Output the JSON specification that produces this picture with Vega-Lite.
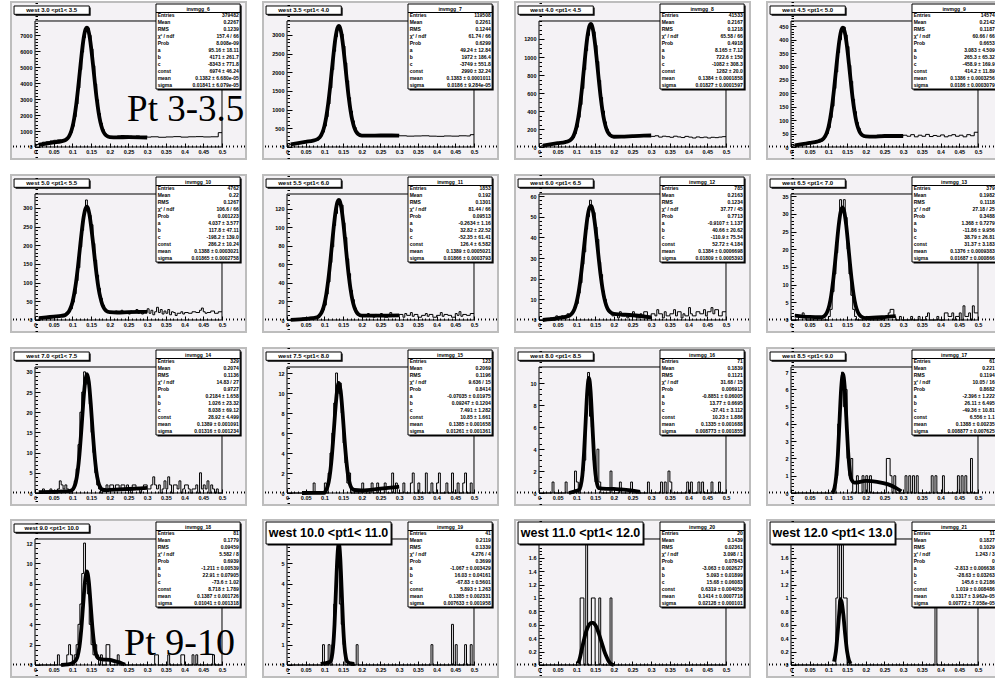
{
  "$schema": "https://vega.github.io/schema/vega-lite/v6.json",
  "background": "#ffffff",
  "padding": {"left": 10, "top": 0, "right": 0, "bottom": 0},
  "spacing": 13,
  "config": {
    "view": {"fill": "#f4f2f5", "stroke": "#bdbdbd", "strokeWidth": 2},
    "text": {"font": "Liberation Sans", "fontWeight": "bold", "fontSize": 5, "color": "black", "baseline": "middle"},
    "line": {"strokeJoin": "round"},
    "axis": {"labelFont": "Liberation Sans", "labelFontWeight": "bold", "labelColor": "black", "labelFontSize": 5.5, "tickColor": "black", "domain": false, "grid": false, "labelFlush": false, "labelOverlap": false}
  },
  "datasets": {
    "t": [
      {"p": 1, "title": "west 3.0 <pt1< 3.5", "name": "invmgg_6", "lab": "Pt 3-3.5"},
      {"p": 2, "title": "west 3.5 <pt1< 4.0", "name": "invmgg_7"},
      {"p": 3, "title": "west 4.0 <pt1< 4.5", "name": "invmgg_8"},
      {"p": 4, "title": "west 4.5 <pt1< 5.0", "name": "invmgg_9"},
      {"p": 5, "title": "west 5.0 <pt1< 5.5", "name": "invmgg_10"},
      {"p": 6, "title": "west 5.5 <pt1< 6.0", "name": "invmgg_11"},
      {"p": 7, "title": "west 6.0 <pt1< 6.5", "name": "invmgg_12"},
      {"p": 8, "title": "west 6.5 <pt1< 7.0", "name": "invmgg_13"},
      {"p": 9, "title": "west 7.0 <pt1< 7.5", "name": "invmgg_14"},
      {"p": 10, "title": "west 7.5 <pt1< 8.0", "name": "invmgg_15"},
      {"p": 11, "title": "west 8.0 <pt1< 8.5", "name": "invmgg_16"},
      {"p": 12, "title": "west 8.5 <pt1< 9.0", "name": "invmgg_17"},
      {"p": 13, "title": "west 9.0 <pt1< 10.0", "name": "invmgg_18", "lab": "Pt 9-10"},
      {"p": 14, "title": "west 10.0 <pt1< 11.0", "name": "invmgg_19"},
      {"p": 15, "title": "west 11.0 <pt1< 12.0", "name": "invmgg_20"},
      {"p": 16, "title": "west 12.0 <pt1< 13.0", "name": "invmgg_21"}
    ],
    "s": [
      {"p":1,"i":1,"k":"Entries","v":"379482"},{"p":1,"i":2,"k":"Mean","v":"0.2267"},{"p":1,"i":3,"k":"RMS","v":"0.1239"},{"p":1,"i":4,"k":"χ² / ndf","v":"157.4 / 66"},{"p":1,"i":5,"k":"Prob","v":"8.008e-09"},{"p":1,"i":6,"k":"a","v":"95.16 ± 18.11"},{"p":1,"i":7,"k":"b","v":"4171 ± 261.7"},{"p":1,"i":8,"k":"c","v":"-8343 ± 771.8"},{"p":1,"i":9,"k":"const","v":"6974 ± 46.24"},{"p":1,"i":10,"k":"mean","v":"0.1382 ± 6.680e-05"},{"p":1,"i":11,"k":"sigma","v":"0.01841 ± 6.079e-05"},
      {"p":2,"i":1,"k":"Entries","v":"119508"},{"p":2,"i":2,"k":"Mean","v":"0.2261"},{"p":2,"i":3,"k":"RMS","v":"0.1244"},{"p":2,"i":4,"k":"χ² / ndf","v":"61.74 / 66"},{"p":2,"i":5,"k":"Prob","v":"0.6299"},{"p":2,"i":6,"k":"a","v":"49.24 ± 12.84"},{"p":2,"i":7,"k":"b","v":"1972 ± 186.4"},{"p":2,"i":8,"k":"c","v":"-3749 ± 551.8"},{"p":2,"i":9,"k":"const","v":"2990 ± 32.24"},{"p":2,"i":10,"k":"mean","v":"0.1383 ± 0.0001011"},{"p":2,"i":11,"k":"sigma","v":"0.0186 ± 9.284e-05"},
      {"p":3,"i":1,"k":"Entries","v":"41533"},{"p":3,"i":2,"k":"Mean","v":"0.2167"},{"p":3,"i":3,"k":"RMS","v":"0.1218"},{"p":3,"i":4,"k":"χ² / ndf","v":"65.58 / 66"},{"p":3,"i":5,"k":"Prob","v":"0.4918"},{"p":3,"i":6,"k":"a","v":"8.165 ± 7.12"},{"p":3,"i":7,"k":"b","v":"722.6 ± 150"},{"p":3,"i":8,"k":"c","v":"-1082 ± 308.3"},{"p":3,"i":9,"k":"const","v":"1282 ± 20.0"},{"p":3,"i":10,"k":"mean","v":"0.1384 ± 0.0001858"},{"p":3,"i":11,"k":"sigma","v":"0.01827 ± 0.0001597"},
      {"p":4,"i":1,"k":"Entries","v":"14574"},{"p":4,"i":2,"k":"Mean","v":"0.2142"},{"p":4,"i":3,"k":"RMS","v":"0.1187"},{"p":4,"i":4,"k":"χ² / ndf","v":"60.66 / 66"},{"p":4,"i":5,"k":"Prob","v":"0.6653"},{"p":4,"i":6,"k":"a","v":"3.083 ± 4.509"},{"p":4,"i":7,"k":"b","v":"265.3 ± 65.32"},{"p":4,"i":8,"k":"c","v":"-458.9 ± 169.9"},{"p":4,"i":9,"k":"const","v":"414.2 ± 11.89"},{"p":4,"i":10,"k":"mean","v":"0.1386 ± 0.0003256"},{"p":4,"i":11,"k":"sigma","v":"0.0186 ± 0.0003079"},
      {"p":5,"i":1,"k":"Entries","v":"4762"},{"p":5,"i":2,"k":"Mean","v":"0.22"},{"p":5,"i":3,"k":"RMS","v":"0.1267"},{"p":5,"i":4,"k":"χ² / ndf","v":"106.6 / 66"},{"p":5,"i":5,"k":"Prob","v":"0.001223"},{"p":5,"i":6,"k":"a","v":"4.037 ± 3.577"},{"p":5,"i":7,"k":"b","v":"117.8 ± 47.11"},{"p":5,"i":8,"k":"c","v":"-198.2 ± 139.0"},{"p":5,"i":9,"k":"const","v":"286.2 ± 10.24"},{"p":5,"i":10,"k":"mean","v":"0.1388 ± 0.0003021"},{"p":5,"i":11,"k":"sigma","v":"0.01865 ± 0.0002758"},
      {"p":6,"i":1,"k":"Entries","v":"1853"},{"p":6,"i":2,"k":"Mean","v":"0.192"},{"p":6,"i":3,"k":"RMS","v":"0.1301"},{"p":6,"i":4,"k":"χ² / ndf","v":"81.44 / 66"},{"p":6,"i":5,"k":"Prob","v":"0.09513"},{"p":6,"i":6,"k":"a","v":"-0.2634 ± 1.16"},{"p":6,"i":7,"k":"b","v":"32.82 ± 22.52"},{"p":6,"i":8,"k":"c","v":"-52.35 ± 61.41"},{"p":6,"i":9,"k":"const","v":"126.4 ± 6.582"},{"p":6,"i":10,"k":"mean","v":"0.1389 ± 0.0005021"},{"p":6,"i":11,"k":"sigma","v":"0.01866 ± 0.0003793"},
      {"p":7,"i":1,"k":"Entries","v":"785"},{"p":7,"i":2,"k":"Mean","v":"0.2163"},{"p":7,"i":3,"k":"RMS","v":"0.1234"},{"p":7,"i":4,"k":"χ² / ndf","v":"37.77 / 45"},{"p":7,"i":5,"k":"Prob","v":"0.7713"},{"p":7,"i":6,"k":"a","v":"-0.9107 ± 1.137"},{"p":7,"i":7,"k":"b","v":"40.66 ± 20.62"},{"p":7,"i":8,"k":"c","v":"-110.9 ± 75.54"},{"p":7,"i":9,"k":"const","v":"52.72 ± 4.184"},{"p":7,"i":10,"k":"mean","v":"0.1384 ± 0.0006698"},{"p":7,"i":11,"k":"sigma","v":"0.01809 ± 0.0005393"},
      {"p":8,"i":1,"k":"Entries","v":"379"},{"p":8,"i":2,"k":"Mean","v":"0.1982"},{"p":8,"i":3,"k":"RMS","v":"0.1118"},{"p":8,"i":4,"k":"χ² / ndf","v":"27.18 / 25"},{"p":8,"i":5,"k":"Prob","v":"0.3488"},{"p":8,"i":6,"k":"a","v":"1.368 ± 0.7279"},{"p":8,"i":7,"k":"b","v":"-11.86 ± 9.956"},{"p":8,"i":8,"k":"c","v":"38.79 ± 26.81"},{"p":8,"i":9,"k":"const","v":"31.37 ± 3.183"},{"p":8,"i":10,"k":"mean","v":"0.1376 ± 0.0009383"},{"p":8,"i":11,"k":"sigma","v":"0.01687 ± 0.000866"},
      {"p":9,"i":1,"k":"Entries","v":"329"},{"p":9,"i":2,"k":"Mean","v":"0.2074"},{"p":9,"i":3,"k":"RMS","v":"0.1136"},{"p":9,"i":4,"k":"χ² / ndf","v":"14.83 / 27"},{"p":9,"i":5,"k":"Prob","v":"0.9727"},{"p":9,"i":6,"k":"a","v":"0.2184 ± 1.658"},{"p":9,"i":7,"k":"b","v":"1.026 ± 23.32"},{"p":9,"i":8,"k":"c","v":"8.038 ± 69.12"},{"p":9,"i":9,"k":"const","v":"28.92 ± 4.499"},{"p":9,"i":10,"k":"mean","v":"0.1389 ± 0.001091"},{"p":9,"i":11,"k":"sigma","v":"0.01316 ± 0.001234"},
      {"p":10,"i":1,"k":"Entries","v":"123"},{"p":10,"i":2,"k":"Mean","v":"0.2069"},{"p":10,"i":3,"k":"RMS","v":"0.1196"},{"p":10,"i":4,"k":"χ² / ndf","v":"9.636 / 15"},{"p":10,"i":5,"k":"Prob","v":"0.8414"},{"p":10,"i":6,"k":"a","v":"-0.07035 ± 0.01975"},{"p":10,"i":7,"k":"b","v":"0.09247 ± 0.1204"},{"p":10,"i":8,"k":"c","v":"7.491 ± 1.282"},{"p":10,"i":9,"k":"const","v":"10.85 ± 1.661"},{"p":10,"i":10,"k":"mean","v":"0.1385 ± 0.001658"},{"p":10,"i":11,"k":"sigma","v":"0.01261 ± 0.001361"},
      {"p":11,"i":1,"k":"Entries","v":"71"},{"p":11,"i":2,"k":"Mean","v":"0.1839"},{"p":11,"i":3,"k":"RMS","v":"0.1121"},{"p":11,"i":4,"k":"χ² / ndf","v":"31.68 / 15"},{"p":11,"i":5,"k":"Prob","v":"0.006912"},{"p":11,"i":6,"k":"a","v":"-0.8851 ± 0.06005"},{"p":11,"i":7,"k":"b","v":"13.77 ± 0.6695"},{"p":11,"i":8,"k":"c","v":"-37.41 ± 3.112"},{"p":11,"i":9,"k":"const","v":"10.23 ± 1.886"},{"p":11,"i":10,"k":"mean","v":"0.1335 ± 0.001688"},{"p":11,"i":11,"k":"sigma","v":"0.008773 ± 0.001855"},
      {"p":12,"i":1,"k":"Entries","v":"61"},{"p":12,"i":2,"k":"Mean","v":"0.221"},{"p":12,"i":3,"k":"RMS","v":"0.1194"},{"p":12,"i":4,"k":"χ² / ndf","v":"10.05 / 16"},{"p":12,"i":5,"k":"Prob","v":"0.8682"},{"p":12,"i":6,"k":"a","v":"-2.396 ± 1.222"},{"p":12,"i":7,"k":"b","v":"26.11 ± 6.495"},{"p":12,"i":8,"k":"c","v":"-49.36 ± 10.81"},{"p":12,"i":9,"k":"const","v":"6.556 ± 1.1"},{"p":12,"i":10,"k":"mean","v":"0.1388 ± 0.00235"},{"p":12,"i":11,"k":"sigma","v":"0.008877 ± 0.007625"},
      {"p":13,"i":1,"k":"Entries","v":"81"},{"p":13,"i":2,"k":"Mean","v":"0.1779"},{"p":13,"i":3,"k":"RMS","v":"0.09459"},{"p":13,"i":4,"k":"χ² / ndf","v":"5.582 / 8"},{"p":13,"i":5,"k":"Prob","v":"0.6939"},{"p":13,"i":6,"k":"a","v":"-1.211 ± 0.00539"},{"p":13,"i":7,"k":"b","v":"22.91 ± 0.07905"},{"p":13,"i":8,"k":"c","v":"-73.6 ± 1.02"},{"p":13,"i":9,"k":"const","v":"8.718 ± 1.789"},{"p":13,"i":10,"k":"mean","v":"0.1387 ± 0.001726"},{"p":13,"i":11,"k":"sigma","v":"0.01041 ± 0.001318"},
      {"p":14,"i":1,"k":"Entries","v":"41"},{"p":14,"i":2,"k":"Mean","v":"0.2119"},{"p":14,"i":3,"k":"RMS","v":"0.1339"},{"p":14,"i":4,"k":"χ² / ndf","v":"4.276 / 4"},{"p":14,"i":5,"k":"Prob","v":"0.3699"},{"p":14,"i":6,"k":"a","v":"-1.067 ± 0.003429"},{"p":14,"i":7,"k":"b","v":"16.03 ± 0.04161"},{"p":14,"i":8,"k":"c","v":"-67.83 ± 0.5601"},{"p":14,"i":9,"k":"const","v":"5.893 ± 1.263"},{"p":14,"i":10,"k":"mean","v":"0.1385 ± 0.002331"},{"p":14,"i":11,"k":"sigma","v":"0.007633 ± 0.001958"},
      {"p":15,"i":1,"k":"Entries","v":"20"},{"p":15,"i":2,"k":"Mean","v":"0.1439"},{"p":15,"i":3,"k":"RMS","v":"0.02361"},{"p":15,"i":4,"k":"χ² / ndf","v":"3.098 / 1"},{"p":15,"i":5,"k":"Prob","v":"0.07843"},{"p":15,"i":6,"k":"a","v":"-3.063 ± 0.002627"},{"p":15,"i":7,"k":"b","v":"5.093 ± 0.01899"},{"p":15,"i":8,"k":"c","v":"15.68 ± 0.06083"},{"p":15,"i":9,"k":"const","v":"0.6319 ± 0.004059"},{"p":15,"i":10,"k":"mean","v":"0.1414 ± 0.0007718"},{"p":15,"i":11,"k":"sigma","v":"0.02128 ± 0.000101"},
      {"p":16,"i":1,"k":"Entries","v":"11"},{"p":16,"i":2,"k":"Mean","v":"0.1827"},{"p":16,"i":3,"k":"RMS","v":"0.1029"},{"p":16,"i":4,"k":"χ² / ndf","v":"1.243 / 3"},{"p":16,"i":5,"k":"Prob","v":"0"},{"p":16,"i":6,"k":"a","v":"-2.813 ± 0.006638"},{"p":16,"i":7,"k":"b","v":"-28.63 ± 0.03263"},{"p":16,"i":8,"k":"c","v":"145.6 ± 0.2186"},{"p":16,"i":9,"k":"const","v":"1.019 ± 0.008486"},{"p":16,"i":10,"k":"mean","v":"0.1317 ± 3.962e-05"},{"p":16,"i":11,"k":"sigma","v":"0.00772 ± 7.058e-05"}
    ],
    "h1": [{"x":0,"y":80},{"x":0.005,"y":160},{"x":0.01,"y":230},{"x":0.02,"y":300},{"x":0.03,"y":330},{"x":0.04,"y":380},{"x":0.05,"y":420},{"x":0.06,"y":450},{"x":0.07,"y":430},{"x":0.08,"y":470},{"x":0.085,"y":560},{"x":0.09,"y":700},{"x":0.095,"y":920},{"x":0.1,"y":1300},{"x":0.105,"y":1900},{"x":0.11,"y":2700},{"x":0.115,"y":3700},{"x":0.12,"y":4850},{"x":0.125,"y":5950},{"x":0.13,"y":6850},{"x":0.135,"y":7520},{"x":0.14,"y":7450},{"x":0.145,"y":7000},{"x":0.15,"y":6150},{"x":0.155,"y":5100},{"x":0.16,"y":3950},{"x":0.165,"y":2950},{"x":0.17,"y":2100},{"x":0.175,"y":1500},{"x":0.18,"y":1100},{"x":0.185,"y":860},{"x":0.19,"y":720},{"x":0.195,"y":650},{"x":0.2,"y":640},{"x":0.21,"y":650},{"x":0.22,"y":690},{"x":0.23,"y":720},{"x":0.24,"y":700},{"x":0.25,"y":680},{"x":0.26,"y":660},{"x":0.27,"y":690},{"x":0.28,"y":650},{"x":0.29,"y":640},{"x":0.3,"y":620},{"x":0.31,"y":640},{"x":0.33,"y":610},{"x":0.35,"y":630},{"x":0.37,"y":650},{"x":0.39,"y":620},{"x":0.41,"y":640},{"x":0.43,"y":650},{"x":0.45,"y":630},{"x":0.47,"y":640},{"x":0.49,"y":900},{"x":0.5,"y":900}],
    "h2": [{"x":0,"y":20},{"x":0.005,"y":60},{"x":0.01,"y":80},{"x":0.02,"y":100},{"x":0.03,"y":110},{"x":0.04,"y":130},{"x":0.05,"y":140},{"x":0.06,"y":155},{"x":0.07,"y":170},{"x":0.08,"y":185},{"x":0.085,"y":230},{"x":0.09,"y":300},{"x":0.095,"y":400},{"x":0.1,"y":560},{"x":0.105,"y":810},{"x":0.11,"y":1150},{"x":0.115,"y":1580},{"x":0.12,"y":2070},{"x":0.125,"y":2560},{"x":0.13,"y":2950},{"x":0.135,"y":3210},{"x":0.14,"y":3180},{"x":0.145,"y":3020},{"x":0.15,"y":2700},{"x":0.155,"y":2250},{"x":0.16,"y":1770},{"x":0.165,"y":1320},{"x":0.17,"y":960},{"x":0.175,"y":700},{"x":0.18,"y":520},{"x":0.185,"y":410},{"x":0.19,"y":340},{"x":0.195,"y":300},{"x":0.2,"y":290},{"x":0.21,"y":300},{"x":0.22,"y":310},{"x":0.23,"y":320},{"x":0.24,"y":315},{"x":0.25,"y":310},{"x":0.26,"y":320},{"x":0.27,"y":305},{"x":0.28,"y":300},{"x":0.29,"y":310},{"x":0.3,"y":300},{"x":0.32,"y":290},{"x":0.34,"y":295},{"x":0.36,"y":300},{"x":0.38,"y":290},{"x":0.4,"y":285},{"x":0.42,"y":295},{"x":0.44,"y":290},{"x":0.46,"y":300},{"x":0.48,"y":295},{"x":0.49,"y":330},{"x":0.5,"y":330}],
    "h3": [{"x":0,"y":5},{"x":0.005,"y":12},{"x":0.01,"y":18},{"x":0.02,"y":25},{"x":0.03,"y":30},{"x":0.04,"y":38},{"x":0.05,"y":42},{"x":0.06,"y":48},{"x":0.07,"y":55},{"x":0.08,"y":60},{"x":0.085,"y":80},{"x":0.09,"y":105},{"x":0.095,"y":150},{"x":0.1,"y":220},{"x":0.105,"y":330},{"x":0.11,"y":470},{"x":0.115,"y":650},{"x":0.12,"y":860},{"x":0.125,"y":1070},{"x":0.13,"y":1240},{"x":0.135,"y":1333},{"x":0.14,"y":1320},{"x":0.145,"y":1280},{"x":0.15,"y":1130},{"x":0.155,"y":950},{"x":0.16,"y":740},{"x":0.165,"y":550},{"x":0.17,"y":400},{"x":0.175,"y":280},{"x":0.18,"y":200},{"x":0.185,"y":160},{"x":0.19,"y":130},{"x":0.195,"y":115},{"x":0.2,"y":110},{"x":0.21,"y":115},{"x":0.22,"y":112},{"x":0.23,"y":118},{"x":0.24,"y":120},{"x":0.25,"y":116},{"x":0.26,"y":122},{"x":0.27,"y":118},{"x":0.28,"y":124},{"x":0.29,"y":120},{"x":0.3,"y":118},{"x":0.31,"y":125},{"x":0.32,"y":110},{"x":0.33,"y":120},{"x":0.34,"y":115},{"x":0.35,"y":108},{"x":0.36,"y":120},{"x":0.37,"y":112},{"x":0.38,"y":105},{"x":0.39,"y":118},{"x":0.4,"y":110},{"x":0.41,"y":100},{"x":0.42,"y":112},{"x":0.43,"y":104},{"x":0.44,"y":110},{"x":0.45,"y":100},{"x":0.46,"y":108},{"x":0.47,"y":104},{"x":0.48,"y":110},{"x":0.49,"y":115},{"x":0.5,"y":115}],
    "h4": [{"x":0,"y":2},{"x":0.005,"y":5},{"x":0.01,"y":8},{"x":0.02,"y":10},{"x":0.03,"y":12},{"x":0.04,"y":14},{"x":0.05,"y":15},{"x":0.06,"y":18},{"x":0.07,"y":20},{"x":0.08,"y":22},{"x":0.085,"y":28},{"x":0.09,"y":38},{"x":0.095,"y":50},{"x":0.1,"y":72},{"x":0.105,"y":110},{"x":0.11,"y":152},{"x":0.115,"y":218},{"x":0.12,"y":280},{"x":0.125,"y":352},{"x":0.13,"y":400},{"x":0.135,"y":440},{"x":0.14,"y":447},{"x":0.145,"y":418},{"x":0.15,"y":375},{"x":0.155,"y":305},{"x":0.16,"y":245},{"x":0.165,"y":178},{"x":0.17,"y":132},{"x":0.175,"y":92},{"x":0.18,"y":70},{"x":0.185,"y":52},{"x":0.19,"y":46},{"x":0.195,"y":40},{"x":0.2,"y":38},{"x":0.21,"y":42},{"x":0.22,"y":38},{"x":0.23,"y":44},{"x":0.24,"y":40},{"x":0.25,"y":46},{"x":0.26,"y":42},{"x":0.27,"y":40},{"x":0.28,"y":45},{"x":0.29,"y":41},{"x":0.3,"y":44},{"x":0.31,"y":40},{"x":0.32,"y":46},{"x":0.33,"y":38},{"x":0.34,"y":44},{"x":0.35,"y":40},{"x":0.36,"y":47},{"x":0.37,"y":39},{"x":0.38,"y":43},{"x":0.39,"y":40},{"x":0.4,"y":45},{"x":0.41,"y":38},{"x":0.42,"y":42},{"x":0.43,"y":46},{"x":0.44,"y":40},{"x":0.45,"y":44},{"x":0.46,"y":38},{"x":0.47,"y":46},{"x":0.48,"y":42},{"x":0.49,"y":55},{"x":0.5,"y":55}],
    "h5": [{"x":0,"y":0},{"x":0.01,"y":3},{"x":0.015,"y":5},{"x":0.02,"y":4},{"x":0.025,"y":8},{"x":0.03,"y":6},{"x":0.035,"y":9},{"x":0.04,"y":7},{"x":0.045,"y":10},{"x":0.05,"y":8},{"x":0.055,"y":12},{"x":0.06,"y":9},{"x":0.065,"y":11},{"x":0.07,"y":10},{"x":0.075,"y":14},{"x":0.08,"y":12},{"x":0.085,"y":16},{"x":0.09,"y":22},{"x":0.095,"y":30},{"x":0.1,"y":48},{"x":0.105,"y":70},{"x":0.11,"y":105},{"x":0.115,"y":140},{"x":0.12,"y":195},{"x":0.125,"y":240},{"x":0.13,"y":290},{"x":0.135,"y":321},{"x":0.14,"y":300},{"x":0.145,"y":280},{"x":0.15,"y":255},{"x":0.155,"y":205},{"x":0.16,"y":160},{"x":0.165,"y":120},{"x":0.17,"y":85},{"x":0.175,"y":58},{"x":0.18,"y":40},{"x":0.185,"y":30},{"x":0.19,"y":24},{"x":0.195,"y":20},{"x":0.2,"y":22},{"x":0.21,"y":18},{"x":0.215,"y":24},{"x":0.22,"y":20},{"x":0.23,"y":26},{"x":0.235,"y":18},{"x":0.24,"y":22},{"x":0.25,"y":16},{"x":0.255,"y":24},{"x":0.26,"y":20},{"x":0.27,"y":28},{"x":0.275,"y":18},{"x":0.28,"y":24},{"x":0.285,"y":16},{"x":0.29,"y":20},{"x":0.3,"y":30},{"x":0.305,"y":18},{"x":0.31,"y":26},{"x":0.315,"y":14},{"x":0.32,"y":22},{"x":0.325,"y":34},{"x":0.33,"y":20},{"x":0.335,"y":28},{"x":0.34,"y":16},{"x":0.345,"y":24},{"x":0.35,"y":18},{"x":0.355,"y":28},{"x":0.36,"y":14},{"x":0.365,"y":22},{"x":0.37,"y":20},{"x":0.375,"y":12},{"x":0.38,"y":18},{"x":0.39,"y":22},{"x":0.395,"y":16},{"x":0.4,"y":20},{"x":0.41,"y":18},{"x":0.42,"y":22},{"x":0.43,"y":20},{"x":0.44,"y":26},{"x":0.445,"y":32},{"x":0.45,"y":22},{"x":0.455,"y":18},{"x":0.46,"y":20},{"x":0.47,"y":24},{"x":0.48,"y":18},{"x":0.49,"y":22},{"x":0.5,"y":22}],
    "h6": [{"x":0,"y":0},{"x":0.02,"y":1},{"x":0.03,"y":0},{"x":0.04,"y":2},{"x":0.05,"y":1},{"x":0.06,"y":3},{"x":0.07,"y":2},{"x":0.08,"y":4},{"x":0.085,"y":5},{"x":0.09,"y":7},{"x":0.095,"y":11},{"x":0.1,"y":16},{"x":0.105,"y":28},{"x":0.11,"y":41},{"x":0.115,"y":62},{"x":0.12,"y":79},{"x":0.125,"y":102},{"x":0.13,"y":115},{"x":0.135,"y":130},{"x":0.14,"y":127},{"x":0.145,"y":124},{"x":0.15,"y":105},{"x":0.155,"y":89},{"x":0.16,"y":66},{"x":0.165,"y":50},{"x":0.17,"y":32},{"x":0.175,"y":22},{"x":0.18,"y":13},{"x":0.185,"y":9},{"x":0.19,"y":6},{"x":0.195,"y":4},{"x":0.2,"y":5},{"x":0.21,"y":4},{"x":0.215,"y":7},{"x":0.22,"y":5},{"x":0.23,"y":3},{"x":0.235,"y":6},{"x":0.24,"y":4},{"x":0.25,"y":7},{"x":0.255,"y":5},{"x":0.26,"y":3},{"x":0.27,"y":6},{"x":0.275,"y":8},{"x":0.28,"y":5},{"x":0.29,"y":4},{"x":0.3,"y":6},{"x":0.31,"y":3},{"x":0.315,"y":7},{"x":0.32,"y":5},{"x":0.33,"y":8},{"x":0.335,"y":4},{"x":0.34,"y":6},{"x":0.35,"y":3},{"x":0.36,"y":5},{"x":0.37,"y":7},{"x":0.375,"y":4},{"x":0.38,"y":6},{"x":0.39,"y":3},{"x":0.4,"y":5},{"x":0.41,"y":8},{"x":0.415,"y":4},{"x":0.42,"y":6},{"x":0.43,"y":5},{"x":0.44,"y":3},{"x":0.45,"y":7},{"x":0.455,"y":5},{"x":0.46,"y":9},{"x":0.465,"y":4},{"x":0.47,"y":6},{"x":0.48,"y":5},{"x":0.49,"y":7},{"x":0.5,"y":7}],
    "h7": [{"x":0,"y":0},{"x":0.03,"y":1},{"x":0.035,"y":0},{"x":0.045,"y":2},{"x":0.05,"y":1},{"x":0.06,"y":2},{"x":0.065,"y":1},{"x":0.075,"y":3},{"x":0.08,"y":2},{"x":0.085,"y":3},{"x":0.09,"y":4},{"x":0.095,"y":6},{"x":0.1,"y":8},{"x":0.105,"y":13},{"x":0.11,"y":18},{"x":0.115,"y":27},{"x":0.12,"y":33},{"x":0.125,"y":44},{"x":0.13,"y":50},{"x":0.135,"y":58},{"x":0.14,"y":54},{"x":0.145,"y":52},{"x":0.15,"y":45},{"x":0.155,"y":39},{"x":0.16,"y":28},{"x":0.165,"y":22},{"x":0.17,"y":14},{"x":0.175,"y":10},{"x":0.18,"y":6},{"x":0.185,"y":4},{"x":0.19,"y":3},{"x":0.195,"y":2},{"x":0.2,"y":3},{"x":0.21,"y":1},{"x":0.215,"y":4},{"x":0.22,"y":2},{"x":0.23,"y":3},{"x":0.235,"y":1},{"x":0.24,"y":2},{"x":0.25,"y":4},{"x":0.255,"y":2},{"x":0.26,"y":1},{"x":0.27,"y":3},{"x":0.275,"y":2},{"x":0.28,"y":4},{"x":0.29,"y":1},{"x":0.3,"y":3},{"x":0.31,"y":2},{"x":0.315,"y":5},{"x":0.32,"y":3},{"x":0.33,"y":1},{"x":0.335,"y":4},{"x":0.34,"y":2},{"x":0.35,"y":3},{"x":0.36,"y":5},{"x":0.365,"y":2},{"x":0.37,"y":4},{"x":0.38,"y":1},{"x":0.385,"y":3},{"x":0.39,"y":2},{"x":0.4,"y":6},{"x":0.405,"y":3},{"x":0.41,"y":2},{"x":0.42,"y":4},{"x":0.43,"y":3},{"x":0.44,"y":5},{"x":0.445,"y":2},{"x":0.45,"y":4},{"x":0.46,"y":6},{"x":0.465,"y":3},{"x":0.47,"y":5},{"x":0.48,"y":2},{"x":0.49,"y":4},{"x":0.5,"y":4}],
    "h8": [{"x":0,"y":0},{"x":0.02,"y":1},{"x":0.03,"y":2},{"x":0.035,"y":1},{"x":0.04,"y":0},{"x":0.1,"y":1},{"x":0.105,"y":3},{"x":0.11,"y":8},{"x":0.115,"y":13},{"x":0.12,"y":19},{"x":0.125,"y":27},{"x":0.13,"y":34},{"x":0.135,"y":32},{"x":0.14,"y":34},{"x":0.145,"y":29},{"x":0.15,"y":20},{"x":0.155,"y":13},{"x":0.16,"y":7},{"x":0.165,"y":3},{"x":0.17,"y":1},{"x":0.175,"y":0},{"x":0.2,"y":1},{"x":0.205,"y":0},{"x":0.24,"y":1},{"x":0.245,"y":0},{"x":0.25,"y":1},{"x":0.26,"y":2},{"x":0.265,"y":3},{"x":0.275,"y":1},{"x":0.28,"y":0},{"x":0.29,"y":1},{"x":0.295,"y":0},{"x":0.32,"y":1},{"x":0.325,"y":0},{"x":0.34,"y":1},{"x":0.345,"y":0},{"x":0.36,"y":1},{"x":0.365,"y":2},{"x":0.37,"y":0},{"x":0.39,"y":1},{"x":0.395,"y":0},{"x":0.41,"y":2},{"x":0.42,"y":1},{"x":0.43,"y":2},{"x":0.435,"y":0},{"x":0.44,"y":1},{"x":0.45,"y":2},{"x":0.455,"y":0},{"x":0.46,"y":4},{"x":0.465,"y":1},{"x":0.475,"y":2},{"x":0.48,"y":0},{"x":0.485,"y":4},{"x":0.49,"y":2},{"x":0.5,"y":2}],
    "h9": [{"x":0,"y":0},{"x":0.02,"y":1},{"x":0.025,"y":0},{"x":0.04,"y":1},{"x":0.045,"y":0},{"x":0.06,"y":1},{"x":0.065,"y":3},{"x":0.07,"y":2},{"x":0.075,"y":1},{"x":0.08,"y":2},{"x":0.085,"y":1},{"x":0.09,"y":0},{"x":0.1,"y":1},{"x":0.105,"y":3},{"x":0.11,"y":6},{"x":0.115,"y":12},{"x":0.12,"y":20},{"x":0.125,"y":25},{"x":0.13,"y":30},{"x":0.135,"y":27},{"x":0.14,"y":28},{"x":0.145,"y":22},{"x":0.15,"y":15},{"x":0.155,"y":10},{"x":0.16,"y":5},{"x":0.165,"y":2},{"x":0.17,"y":1},{"x":0.175,"y":0},{"x":0.18,"y":1},{"x":0.19,"y":2},{"x":0.195,"y":1},{"x":0.2,"y":2},{"x":0.21,"y":1},{"x":0.215,"y":2},{"x":0.225,"y":1},{"x":0.23,"y":2},{"x":0.24,"y":1},{"x":0.245,"y":2},{"x":0.25,"y":1},{"x":0.255,"y":0},{"x":0.26,"y":2},{"x":0.27,"y":1},{"x":0.28,"y":0},{"x":0.285,"y":1},{"x":0.29,"y":2},{"x":0.3,"y":1},{"x":0.31,"y":2},{"x":0.315,"y":4},{"x":0.32,"y":2},{"x":0.325,"y":1},{"x":0.33,"y":2},{"x":0.335,"y":0},{"x":0.34,"y":1},{"x":0.345,"y":3},{"x":0.35,"y":1},{"x":0.355,"y":4},{"x":0.36,"y":2},{"x":0.365,"y":0},{"x":0.37,"y":2},{"x":0.38,"y":1},{"x":0.385,"y":3},{"x":0.39,"y":0},{"x":0.395,"y":1},{"x":0.4,"y":2},{"x":0.41,"y":1},{"x":0.415,"y":0},{"x":0.42,"y":1},{"x":0.43,"y":2},{"x":0.435,"y":0},{"x":0.44,"y":5},{"x":0.445,"y":1},{"x":0.45,"y":2},{"x":0.455,"y":1},{"x":0.46,"y":3},{"x":0.465,"y":0},{"x":0.47,"y":2},{"x":0.475,"y":1},{"x":0.48,"y":0},{"x":0.485,"y":1},{"x":0.49,"y":0},{"x":0.5,"y":0}],
    "h10": [{"x":0,"y":0},{"x":0.07,"y":1},{"x":0.075,"y":0},{"x":0.1,"y":1},{"x":0.105,"y":0},{"x":0.11,"y":2},{"x":0.115,"y":4},{"x":0.12,"y":6},{"x":0.125,"y":9},{"x":0.13,"y":12},{"x":0.135,"y":10},{"x":0.14,"y":11},{"x":0.145,"y":8},{"x":0.15,"y":5},{"x":0.155,"y":3},{"x":0.16,"y":1},{"x":0.165,"y":2},{"x":0.17,"y":0},{"x":0.2,"y":1},{"x":0.205,"y":0},{"x":0.225,"y":1},{"x":0.23,"y":0},{"x":0.24,"y":1},{"x":0.245,"y":0},{"x":0.26,"y":1},{"x":0.265,"y":0},{"x":0.28,"y":2},{"x":0.285,"y":0},{"x":0.29,"y":1},{"x":0.295,"y":0},{"x":0.31,"y":1},{"x":0.315,"y":0},{"x":0.33,"y":1},{"x":0.335,"y":2},{"x":0.34,"y":0},{"x":0.35,"y":1},{"x":0.355,"y":0},{"x":0.37,"y":2},{"x":0.375,"y":0},{"x":0.385,"y":1},{"x":0.39,"y":0},{"x":0.4,"y":1},{"x":0.405,"y":2},{"x":0.41,"y":0},{"x":0.425,"y":1},{"x":0.43,"y":0},{"x":0.44,"y":2},{"x":0.445,"y":0},{"x":0.455,"y":1},{"x":0.46,"y":0},{"x":0.47,"y":1},{"x":0.475,"y":2},{"x":0.48,"y":0},{"x":0.49,"y":1},{"x":0.495,"y":0},{"x":0.5,"y":0}],
    "h11": [{"x":0,"y":0},{"x":0.035,"y":1},{"x":0.04,"y":0},{"x":0.07,"y":1},{"x":0.075,"y":0},{"x":0.095,"y":2},{"x":0.1,"y":1},{"x":0.105,"y":0},{"x":0.11,"y":1},{"x":0.115,"y":2},{"x":0.12,"y":3},{"x":0.125,"y":8},{"x":0.13,"y":11},{"x":0.135,"y":7},{"x":0.14,"y":6},{"x":0.145,"y":3},{"x":0.15,"y":1},{"x":0.155,"y":4},{"x":0.16,"y":1},{"x":0.165,"y":0},{"x":0.19,"y":2},{"x":0.195,"y":0},{"x":0.215,"y":1},{"x":0.22,"y":0},{"x":0.245,"y":1},{"x":0.25,"y":0},{"x":0.29,"y":1},{"x":0.295,"y":0},{"x":0.325,"y":1},{"x":0.33,"y":0},{"x":0.335,"y":1},{"x":0.34,"y":0},{"x":0.345,"y":2},{"x":0.35,"y":1},{"x":0.355,"y":0},{"x":0.395,"y":1},{"x":0.4,"y":0},{"x":0.405,"y":1},{"x":0.41,"y":0},{"x":0.425,"y":1},{"x":0.43,"y":0},{"x":0.435,"y":1},{"x":0.44,"y":0},{"x":0.46,"y":1},{"x":0.465,"y":0},{"x":0.48,"y":1},{"x":0.485,"y":0},{"x":0.5,"y":0}],
    "h12": [{"x":0,"y":0},{"x":0.12,"y":1},{"x":0.125,"y":4},{"x":0.13,"y":5},{"x":0.135,"y":7},{"x":0.14,"y":5},{"x":0.145,"y":6},{"x":0.15,"y":2},{"x":0.155,"y":1},{"x":0.16,"y":2},{"x":0.165,"y":0},{"x":0.175,"y":1},{"x":0.18,"y":0},{"x":0.19,"y":1},{"x":0.195,"y":0},{"x":0.2,"y":1},{"x":0.205,"y":0},{"x":0.21,"y":1},{"x":0.215,"y":0},{"x":0.255,"y":2},{"x":0.265,"y":1},{"x":0.27,"y":0},{"x":0.275,"y":1},{"x":0.28,"y":0},{"x":0.305,"y":1},{"x":0.31,"y":0},{"x":0.315,"y":1},{"x":0.32,"y":0},{"x":0.325,"y":1},{"x":0.33,"y":0},{"x":0.335,"y":1},{"x":0.34,"y":0},{"x":0.375,"y":1},{"x":0.38,"y":0},{"x":0.385,"y":1},{"x":0.39,"y":0},{"x":0.405,"y":1},{"x":0.41,"y":0},{"x":0.445,"y":1},{"x":0.45,"y":0},{"x":0.455,"y":1},{"x":0.46,"y":0},{"x":0.465,"y":1},{"x":0.47,"y":0},{"x":0.48,"y":2},{"x":0.485,"y":0},{"x":0.5,"y":0}],
    "h13": [{"x":0,"y":0},{"x":0.06,"y":1},{"x":0.065,"y":0},{"x":0.085,"y":1},{"x":0.09,"y":2},{"x":0.095,"y":1},{"x":0.1,"y":0},{"x":0.105,"y":1},{"x":0.11,"y":2},{"x":0.115,"y":4},{"x":0.12,"y":6},{"x":0.125,"y":9},{"x":0.13,"y":12},{"x":0.135,"y":8},{"x":0.14,"y":7},{"x":0.145,"y":4},{"x":0.15,"y":2},{"x":0.155,"y":1},{"x":0.16,"y":2},{"x":0.165,"y":1},{"x":0.17,"y":0},{"x":0.175,"y":1},{"x":0.18,"y":0},{"x":0.19,"y":2},{"x":0.2,"y":0},{"x":0.22,"y":1},{"x":0.225,"y":0},{"x":0.32,"y":1},{"x":0.33,"y":0},{"x":0.355,"y":1},{"x":0.36,"y":0},{"x":0.39,"y":1},{"x":0.4,"y":0},{"x":0.42,"y":1},{"x":0.425,"y":0},{"x":0.43,"y":1},{"x":0.435,"y":0},{"x":0.475,"y":1},{"x":0.48,"y":0},{"x":0.5,"y":0}],
    "h14": [{"x":0,"y":0},{"x":0.095,"y":1},{"x":0.1,"y":0},{"x":0.11,"y":1},{"x":0.115,"y":0},{"x":0.12,"y":1},{"x":0.125,"y":3},{"x":0.13,"y":4},{"x":0.135,"y":7},{"x":0.14,"y":3},{"x":0.145,"y":2},{"x":0.15,"y":1},{"x":0.155,"y":0},{"x":0.185,"y":1},{"x":0.19,"y":0},{"x":0.385,"y":1},{"x":0.39,"y":0},{"x":0.44,"y":2},{"x":0.445,"y":0},{"x":0.45,"y":1},{"x":0.455,"y":0},{"x":0.475,"y":1},{"x":0.48,"y":0},{"x":0.49,"y":1},{"x":0.495,"y":0},{"x":0.5,"y":0}],
    "h15": [{"x":0,"y":0},{"x":0.11,"y":1},{"x":0.12,"y":0},{"x":0.125,"y":2},{"x":0.13,"y":0},{"x":0.14,"y":1},{"x":0.15,"y":0},{"x":0.16,"y":1},{"x":0.165,"y":0},{"x":0.19,"y":1},{"x":0.195,"y":0},{"x":0.5,"y":0}],
    "h16": [{"x":0,"y":0},{"x":0.12,"y":1},{"x":0.125,"y":2},{"x":0.13,"y":1},{"x":0.135,"y":2},{"x":0.14,"y":1},{"x":0.15,"y":0},{"x":0.385,"y":2},{"x":0.39,"y":0},{"x":0.5,"y":0}],
    "f1": [{"x":0.01,"y":136},{"x":0.03,"y":213},{"x":0.05,"y":283},{"x":0.07,"y":354},{"x":0.08,"y":423},{"x":0.085,"y":499},{"x":0.09,"y":632},{"x":0.095,"y":866},{"x":0.1,"y":1246},{"x":0.105,"y":1821},{"x":0.11,"y":2617},{"x":0.115,"y":3621},{"x":0.12,"y":4755},{"x":0.125,"y":5877},{"x":0.13,"y":6808},{"x":0.135,"y":7374},{"x":0.1383,"y":7489},{"x":0.14,"y":7463},{"x":0.145,"y":7058},{"x":0.15,"y":6245},{"x":0.155,"y":5184},{"x":0.16,"y":4055},{"x":0.165,"y":3019},{"x":0.17,"y":2171},{"x":0.175,"y":1544},{"x":0.18,"y":1124},{"x":0.185,"y":869},{"x":0.19,"y":725},{"x":0.2,"y":622},{"x":0.22,"y":608},{"x":0.25,"y":617},{"x":0.28,"y":608},{"x":0.3,"y":595}],
    "f2": [{"x":0.01,"y":69},{"x":0.03,"y":105},{"x":0.05,"y":139},{"x":0.07,"y":172},{"x":0.08,"y":204},{"x":0.085,"y":237},{"x":0.09,"y":295},{"x":0.095,"y":396},{"x":0.1,"y":559},{"x":0.105,"y":807},{"x":0.11,"y":1148},{"x":0.115,"y":1577},{"x":0.12,"y":2065},{"x":0.125,"y":2545},{"x":0.13,"y":2945},{"x":0.135,"y":3189},{"x":0.1383,"y":3240},{"x":0.14,"y":3230},{"x":0.145,"y":3058},{"x":0.15,"y":2710},{"x":0.155,"y":2256},{"x":0.16,"y":1773},{"x":0.165,"y":1328},{"x":0.17,"y":967},{"x":0.175,"y":699},{"x":0.18,"y":519},{"x":0.185,"y":410},{"x":0.19,"y":349},{"x":0.2,"y":305},{"x":0.22,"y":302},{"x":0.25,"y":308},{"x":0.28,"y":308},{"x":0.3,"y":303}],
    "f3": [{"x":0.01,"y":15},{"x":0.03,"y":29},{"x":0.05,"y":42},{"x":0.07,"y":54},{"x":0.08,"y":68},{"x":0.085,"y":82},{"x":0.09,"y":106},{"x":0.095,"y":150},{"x":0.1,"y":220},{"x":0.105,"y":326},{"x":0.11,"y":472},{"x":0.115,"y":656},{"x":0.12,"y":865},{"x":0.125,"y":1072},{"x":0.13,"y":1243},{"x":0.135,"y":1347},{"x":0.1383,"y":1369},{"x":0.14,"y":1365},{"x":0.145,"y":1291},{"x":0.15,"y":1142},{"x":0.155,"y":948},{"x":0.16,"y":741},{"x":0.165,"y":551},{"x":0.17,"y":396},{"x":0.175,"y":281},{"x":0.18,"y":204},{"x":0.185,"y":158},{"x":0.19,"y":132},{"x":0.2,"y":114},{"x":0.22,"y":115},{"x":0.25,"y":121},{"x":0.28,"y":126},{"x":0.3,"y":128}],
    "f4": [{"x":0.01,"y":6},{"x":0.03,"y":11},{"x":0.05,"y":15},{"x":0.07,"y":20},{"x":0.08,"y":25},{"x":0.085,"y":29},{"x":0.09,"y":37},{"x":0.095,"y":51},{"x":0.1,"y":73},{"x":0.105,"y":108},{"x":0.11,"y":155},{"x":0.115,"y":215},{"x":0.12,"y":282},{"x":0.125,"y":349},{"x":0.13,"y":404},{"x":0.135,"y":438},{"x":0.1383,"y":445},{"x":0.14,"y":444},{"x":0.145,"y":420},{"x":0.15,"y":372},{"x":0.155,"y":309},{"x":0.16,"y":242},{"x":0.165,"y":180},{"x":0.17,"y":131},{"x":0.175,"y":93},{"x":0.18,"y":69},{"x":0.185,"y":53},{"x":0.19,"y":45},{"x":0.2,"y":40},{"x":0.22,"y":39},{"x":0.25,"y":41},{"x":0.28,"y":41},{"x":0.3,"y":41}],
    "f5": [{"x":0.01,"y":5},{"x":0.03,"y":7},{"x":0.05,"y":9},{"x":0.07,"y":11},{"x":0.08,"y":13},{"x":0.085,"y":17},{"x":0.09,"y":22},{"x":0.095,"y":32},{"x":0.1,"y":47},{"x":0.105,"y":71},{"x":0.11,"y":103},{"x":0.115,"y":144},{"x":0.12,"y":191},{"x":0.125,"y":237},{"x":0.13,"y":275},{"x":0.135,"y":298},{"x":0.1383,"y":303},{"x":0.14,"y":302},{"x":0.145,"y":285},{"x":0.15,"y":251},{"x":0.155,"y":208},{"x":0.16,"y":162},{"x":0.165,"y":119},{"x":0.17,"y":84},{"x":0.175,"y":59},{"x":0.18,"y":41},{"x":0.185,"y":31},{"x":0.19,"y":25},{"x":0.2,"y":21},{"x":0.22,"y":20},{"x":0.25,"y":21},{"x":0.28,"y":21.5},{"x":0.3,"y":21.5}],
    "f6": [{"x":0.01,"y":0.1},{"x":0.05,"y":1.2},{"x":0.08,"y":2.9},{"x":0.085,"y":4.1},{"x":0.09,"y":6.4},{"x":0.095,"y":10.5},{"x":0.1,"y":17.3},{"x":0.105,"y":27.7},{"x":0.11,"y":42},{"x":0.115,"y":60},{"x":0.12,"y":80.4},{"x":0.125,"y":100.6},{"x":0.13,"y":117.3},{"x":0.135,"y":127.5},{"x":0.1383,"y":129.6},{"x":0.14,"y":129.3},{"x":0.145,"y":121.9},{"x":0.15,"y":107},{"x":0.155,"y":87.8},{"x":0.16,"y":67.2},{"x":0.165,"y":48.4},{"x":0.17,"y":33},{"x":0.175,"y":21.5},{"x":0.18,"y":13.9},{"x":0.185,"y":9.2},{"x":0.19,"y":6.5},{"x":0.2,"y":4.7},{"x":0.25,"y":4.7},{"x":0.3,"y":4.9}],
    "f7": [{"x":0.01,"y":0},{"x":0.05,"y":0.9},{"x":0.08,"y":2},{"x":0.085,"y":2.6},{"x":0.09,"y":3.6},{"x":0.095,"y":5.4},{"x":0.1,"y":8.2},{"x":0.105,"y":12.5},{"x":0.11,"y":18.5},{"x":0.115,"y":26},{"x":0.12,"y":34.6},{"x":0.125,"y":43.1},{"x":0.13,"y":50.2},{"x":0.135,"y":54.4},{"x":0.1383,"y":55.3},{"x":0.14,"y":55.2},{"x":0.145,"y":52.1},{"x":0.15,"y":45.9},{"x":0.155,"y":37.9},{"x":0.16,"y":29.3},{"x":0.165,"y":21.4},{"x":0.17,"y":15},{"x":0.175,"y":10.2},{"x":0.18,"y":7},{"x":0.185,"y":5},{"x":0.19,"y":3.9},{"x":0.2,"y":3},{"x":0.25,"y":2.3},{"x":0.3,"y":1.3}],
    "f8": [{"x":0.01,"y":1.25},{"x":0.05,"y":0.87},{"x":0.08,"y":0.8},{"x":0.0876,"y":1},{"x":0.0926,"y":1.5},{"x":0.0976,"y":2.5},{"x":0.1026,"y":4.2},{"x":0.1076,"y":7},{"x":0.1126,"y":11},{"x":0.1176,"y":16},{"x":0.1226,"y":21.6},{"x":0.1276,"y":26.8},{"x":0.1326,"y":30.5},{"x":0.1376,"y":31.8},{"x":0.1426,"y":30.5},{"x":0.1476,"y":26.8},{"x":0.1526,"y":21.6},{"x":0.1576,"y":16},{"x":0.1626,"y":11},{"x":0.1676,"y":7},{"x":0.1726,"y":4.2},{"x":0.1776,"y":2.5},{"x":0.1826,"y":1.5},{"x":0.1876,"y":1},{"x":0.2,"y":0.55},{"x":0.25,"y":0.83},{"x":0.28,"y":1.1}],
    "f9": [{"x":0.01,"y":0.2},{"x":0.05,"y":0.3},{"x":0.09,"y":0.45},{"x":0.0989,"y":0.7},{"x":0.1039,"y":1.3},{"x":0.1089,"y":2.6},{"x":0.1139,"y":5.25},{"x":0.1189,"y":9.6},{"x":0.1239,"y":15.6},{"x":0.1289,"y":22.2},{"x":0.1339,"y":27.4},{"x":0.1389,"y":29.4},{"x":0.1439,"y":27.5},{"x":0.1489,"y":22.3},{"x":0.1539,"y":15.7},{"x":0.1589,"y":9.8},{"x":0.1639,"y":5.4},{"x":0.1689,"y":2.8},{"x":0.1739,"y":1.5},{"x":0.1789,"y":0.9},{"x":0.19,"y":0.7},{"x":0.2,"y":0.75},{"x":0.25,"y":0.99},{"x":0.3,"y":1.26}],
    "f10": [{"x":0.04,"y":0},{"x":0.07,"y":0.01},{"x":0.1,"y":0.02},{"x":0.1035,"y":0.24},{"x":0.1085,"y":0.64},{"x":0.1135,"y":1.54},{"x":0.1185,"y":3.1},{"x":0.1235,"y":5.38},{"x":0.1285,"y":7.96},{"x":0.1335,"y":10.1},{"x":0.1385,"y":11},{"x":0.1435,"y":10.2},{"x":0.1485,"y":8.1},{"x":0.1535,"y":5.5},{"x":0.1585,"y":3.3},{"x":0.1635,"y":1.7},{"x":0.1685,"y":0.85},{"x":0.1735,"y":0.45},{"x":0.18,"y":0.3},{"x":0.2,"y":0.25},{"x":0.25,"y":0.43},{"x":0.3,"y":0.63}],
    "f11": [{"x":0.08,"y":0},{"x":0.1,"y":0.2},{"x":0.1071,"y":0.28},{"x":0.1115,"y":0.65},{"x":0.1159,"y":1.6},{"x":0.1203,"y":3.6},{"x":0.1247,"y":6.5},{"x":0.1291,"y":9.3},{"x":0.1335,"y":10.5},{"x":0.1379,"y":9.3},{"x":0.1423,"y":6.5},{"x":0.1467,"y":3.6},{"x":0.1511,"y":1.7},{"x":0.1555,"y":0.8},{"x":0.16,"y":0.45},{"x":0.18,"y":0.38},{"x":0.2,"y":0.37},{"x":0.22,"y":0.32},{"x":0.25,"y":0.22},{"x":0.27,"y":0.1}],
    "f12": [{"x":0.11,"y":0},{"x":0.1163,"y":0.3},{"x":0.1208,"y":0.95},{"x":0.1253,"y":2.2},{"x":0.1298,"y":4.2},{"x":0.1343,"y":6.1},{"x":0.1388,"y":6.9},{"x":0.1433,"y":6.2},{"x":0.1478,"y":4.4},{"x":0.1523,"y":2.55},{"x":0.1568,"y":1.35},{"x":0.1613,"y":0.8},{"x":0.17,"y":0.6},{"x":0.2,"y":0.7},{"x":0.23,"y":0.65},{"x":0.26,"y":0.5},{"x":0.28,"y":0.3},{"x":0.295,"y":0.1}],
    "f13": [{"x":0.07,"y":0},{"x":0.0887,"y":0.05},{"x":0.1037,"y":0.28},{"x":0.1087,"y":0.44},{"x":0.1137,"y":0.84},{"x":0.1187,"y":1.77},{"x":0.1237,"y":3.5},{"x":0.1287,"y":5.94},{"x":0.1337,"y":8.24},{"x":0.1387,"y":9.22},{"x":0.1437,"y":8.26},{"x":0.1487,"y":6},{"x":0.1537,"y":3.6},{"x":0.1587,"y":1.9},{"x":0.1637,"y":1},{"x":0.1687,"y":0.68},{"x":0.18,"y":0.55},{"x":0.2,"y":0.5},{"x":0.215,"y":0.35},{"x":0.23,"y":0.2},{"x":0.24,"y":0.05}],
    "f14": [{"x":0.09,"y":0.05},{"x":0.1157,"y":0.16},{"x":0.1195,"y":0.36},{"x":0.1233,"y":0.9},{"x":0.1271,"y":2},{"x":0.1309,"y":3.7},{"x":0.1347,"y":5.3},{"x":0.1385,"y":6},{"x":0.1423,"y":5.3},{"x":0.1461,"y":3.7},{"x":0.1499,"y":2},{"x":0.1537,"y":0.9},{"x":0.1575,"y":0.36},{"x":0.1613,"y":0.16},{"x":0.17,"y":0.08},{"x":0.18,"y":0.05}],
    "f15": [{"x":0.105,"y":0.02},{"x":0.11,"y":0.12},{"x":0.115,"y":0.25},{"x":0.12,"y":0.37},{"x":0.125,"y":0.48},{"x":0.13,"y":0.56},{"x":0.135,"y":0.61},{"x":0.14,"y":0.63},{"x":0.145,"y":0.63},{"x":0.15,"y":0.6},{"x":0.155,"y":0.55},{"x":0.16,"y":0.47},{"x":0.165,"y":0.38},{"x":0.17,"y":0.29},{"x":0.175,"y":0.2},{"x":0.18,"y":0.13},{"x":0.185,"y":0.07},{"x":0.19,"y":0.03},{"x":0.195,"y":0.01},{"x":0.2,"y":0}],
    "f16": [{"x":0.115,"y":0.05},{"x":0.12,"y":0.2},{"x":0.125,"y":0.5},{"x":0.13,"y":0.85},{"x":0.1317,"y":0.98},{"x":0.135,"y":0.95},{"x":0.14,"y":0.75},{"x":0.145,"y":0.45},{"x":0.15,"y":0.2},{"x":0.155,"y":0.07},{"x":0.16,"y":0.02}]
  },
  "vconcat": [
    {"bounds": "flush", "spacing": 17, "hconcat": [
      {"width": 235, "height": 157, "resolve": {"scale": {"x": "independent", "y": "independent"}}, "layer": [
        {"resolve": {"axis": {"x": "independent", "y": "independent"}}, "layer": [
          {"data": {"values": [{}]}, "mark": {"type": "rect", "filled": false, "stroke": "black", "strokeWidth": 1}, "encoding": {"x": {"datum": 0, "type": "quantitative", "scale": {"domain": [-0.0642, 0.5642], "nice": false, "zero": false}, "axis": null}, "x2": {"datum": 0.5}, "y": {"datum": 0, "type": "quantitative", "scale": {"domain": [-752.4, 9091.2], "nice": false, "zero": false}, "axis": null}, "y2": {"datum": 7900}}},
          {"data": {"name": "h1"}, "mark": {"type": "line", "interpolate": "step-after", "color": "black", "strokeWidth": 1}, "encoding": {"x": {"field": "x", "type": "quantitative", "axis": {"orient": "bottom", "offset": -12, "values": [0,0.05,0.1,0.15,0.2,0.25,0.3,0.35,0.4,0.45,0.5], "format": ".2~f", "tickSize": -4, "labelPadding": 6, "title": null, "maxExtent": 12}}, "y": {"field": "y", "type": "quantitative", "axis": {"orient": "left", "offset": -24, "values": [0,1000,2000,3000,4000,5000,6000,7000], "format": "d", "tickSize": -5, "labelPadding": 8, "title": null, "maxExtent": 22}}}},
          {"data": {"name": "f1"}, "mark": {"type": "line", "interpolate": "monotone", "color": "black", "strokeWidth": 3.8}, "encoding": {"x": {"field": "x", "type": "quantitative", "axis": {"orient": "bottom", "offset": -12, "tickCount": 60, "labels": false, "tickSize": -2, "title": null, "maxExtent": 12, "encode": {"ticks": {"update": {"opacity": {"signal": "datum.value > -0.0001 && datum.value < 0.5001 ? 1 : 0"}}}}}}, "y": {"field": "y", "type": "quantitative", "axis": {"orient": "left", "offset": -24, "tickCount": 49, "labels": false, "tickSize": -2.5, "title": null, "maxExtent": 22, "encode": {"ticks": {"update": {"opacity": {"signal": "datum.value > -0.00001 && datum.value < 7900 ? 1 : 0"}}}}}}}}
        ]},
        {"data": {"values": [{}]}, "layer": [
          {"mark": {"type": "rect", "color": "black"}, "encoding": {"x": {"datum": 0.6235, "type": "quantitative", "scale": {"domain": [0, 1], "nice": false, "zero": false}, "axis": null}, "x2": {"datum": 0.9815}, "y": {"datum": -0.438, "type": "quantitative", "scale": {"domain": [-0.9424, 21.648], "nice": false, "zero": false, "reverse": true}, "axis": null}, "y2": {"datum": 11.79}}},
          {"mark": {"type": "rect", "fill": "white", "stroke": "black", "strokeWidth": 1}, "encoding": {"x": {"datum": 0.617, "axis": null}, "x2": {"datum": 0.975}, "y": {"datum": -0.654, "axis": null}, "y2": {"datum": 11.576}}},
          {"mark": {"type": "rule", "color": "black", "strokeWidth": 1}, "encoding": {"x": {"datum": 0.617, "axis": null}, "x2": {"datum": 0.975}, "y": {"datum": 0.57, "axis": null}}},
          {"data": {"name": "t"}, "transform": [{"filter": "datum.p == 1"}], "mark": {"type": "text", "align": "center"}, "encoding": {"x": {"datum": 0.796, "axis": null}, "y": {"datum": 0, "axis": null}, "text": {"field": "name"}}},
          {"data": {"name": "s"}, "transform": [{"filter": "datum.p == 1"}], "mark": {"type": "text", "align": "left"}, "encoding": {"x": {"datum": 0.624, "axis": null}, "y": {"field": "i", "type": "quantitative", "axis": null}, "text": {"field": "k"}}},
          {"data": {"name": "s"}, "transform": [{"filter": "datum.p == 1"}], "mark": {"type": "text", "align": "right"}, "encoding": {"x": {"datum": 0.969, "axis": null}, "y": {"field": "i", "type": "quantitative", "axis": null}, "text": {"field": "v"}}},
          {"mark": {"type": "rect", "color": "black"}, "encoding": {"x": {"datum": 0.0194, "axis": null}, "x2": {"datum": 0.339}, "y": {"datum": -0.151, "axis": null}, "y2": {"datum": 1.043}}},
          {"mark": {"type": "rect", "fill": "white", "stroke": "black", "strokeWidth": 1}, "encoding": {"x": {"datum": 0.013, "axis": null}, "x2": {"datum": 0.333}, "y": {"datum": -0.367, "axis": null}, "y2": {"datum": 0.827}}},
          {"data": {"name": "t"}, "transform": [{"filter": "datum.p == 1"}], "mark": {"type": "text", "align": "center", "fontSize": 6}, "encoding": {"x": {"datum": 0.173, "axis": null}, "y": {"datum": 0.23, "axis": null}, "text": {"field": "title"}}},
          {"data": {"name": "t"}, "transform": [{"filter": "datum.p == 1"}], "mark": {"type": "text", "align": "left", "baseline": "alphabetic", "font": "Liberation Serif", "fontWeight": "normal", "fontSize": 37}, "encoding": {"x": {"datum": 0.494, "axis": null}, "y": {"datum": 16.2, "axis": null}, "text": {"field": "lab"}}}
        ]}
      ]},
      {"width": 235, "height": 157, "resolve": {"scale": {"x": "independent", "y": "independent"}}, "layer": [
        {"resolve": {"axis": {"x": "independent", "y": "independent"}}, "layer": [
          {"data": {"values": [{}]}, "mark": {"type": "rect", "filled": false, "stroke": "black", "strokeWidth": 1}, "encoding": {"x": {"datum": 0, "type": "quantitative", "scale": {"domain": [-0.0642, 0.5642], "nice": false, "zero": false}, "axis": null}, "x2": {"datum": 0.5}, "y": {"datum": 0, "type": "quantitative", "scale": {"domain": [-321.0, 3878.2], "nice": false, "zero": false}, "axis": null}, "y2": {"datum": 3370}}},
          {"data": {"name": "h2"}, "mark": {"type": "line", "interpolate": "step-after", "color": "black", "strokeWidth": 1}, "encoding": {"x": {"field": "x", "type": "quantitative", "axis": {"orient": "bottom", "offset": -12, "values": [0,0.05,0.1,0.15,0.2,0.25,0.3,0.35,0.4,0.45,0.5], "format": ".2~f", "tickSize": -4, "labelPadding": 6, "title": null, "maxExtent": 12}}, "y": {"field": "y", "type": "quantitative", "axis": {"orient": "left", "offset": -24, "values": [0,500,1000,1500,2000,2500,3000], "format": "d", "tickSize": -5, "labelPadding": 8, "title": null, "maxExtent": 22}}}},
          {"data": {"name": "f2"}, "mark": {"type": "line", "interpolate": "monotone", "color": "black", "strokeWidth": 3.8}, "encoding": {"x": {"field": "x", "type": "quantitative", "axis": {"orient": "bottom", "offset": -12, "tickCount": 60, "labels": false, "tickSize": -2, "title": null, "maxExtent": 12, "encode": {"ticks": {"update": {"opacity": {"signal": "datum.value > -0.0001 && datum.value < 0.5001 ? 1 : 0"}}}}}}, "y": {"field": "y", "type": "quantitative", "axis": {"orient": "left", "offset": -24, "tickCount": 42, "labels": false, "tickSize": -2.5, "title": null, "maxExtent": 22, "encode": {"ticks": {"update": {"opacity": {"signal": "datum.value > -0.00001 && datum.value < 3370 ? 1 : 0"}}}}}}}}
        ]},
        {"data": {"values": [{}]}, "layer": [
          {"mark": {"type": "rect", "color": "black"}, "encoding": {"x": {"datum": 0.6235, "type": "quantitative", "scale": {"domain": [0, 1], "nice": false, "zero": false}, "axis": null}, "x2": {"datum": 0.9815}, "y": {"datum": -0.438, "type": "quantitative", "scale": {"domain": [-0.9424, 21.648], "nice": false, "zero": false, "reverse": true}, "axis": null}, "y2": {"datum": 11.79}}},
          {"mark": {"type": "rect", "fill": "white", "stroke": "black", "strokeWidth": 1}, "encoding": {"x": {"datum": 0.617, "axis": null}, "x2": {"datum": 0.975}, "y": {"datum": -0.654, "axis": null}, "y2": {"datum": 11.576}}},
          {"mark": {"type": "rule", "color": "black", "strokeWidth": 1}, "encoding": {"x": {"datum": 0.617, "axis": null}, "x2": {"datum": 0.975}, "y": {"datum": 0.57, "axis": null}}},
          {"data": {"name": "t"}, "transform": [{"filter": "datum.p == 2"}], "mark": {"type": "text", "align": "center"}, "encoding": {"x": {"datum": 0.796, "axis": null}, "y": {"datum": 0, "axis": null}, "text": {"field": "name"}}},
          {"data": {"name": "s"}, "transform": [{"filter": "datum.p == 2"}], "mark": {"type": "text", "align": "left"}, "encoding": {"x": {"datum": 0.624, "axis": null}, "y": {"field": "i", "type": "quantitative", "axis": null}, "text": {"field": "k"}}},
          {"data": {"name": "s"}, "transform": [{"filter": "datum.p == 2"}], "mark": {"type": "text", "align": "right"}, "encoding": {"x": {"datum": 0.969, "axis": null}, "y": {"field": "i", "type": "quantitative", "axis": null}, "text": {"field": "v"}}},
          {"mark": {"type": "rect", "color": "black"}, "encoding": {"x": {"datum": 0.0194, "axis": null}, "x2": {"datum": 0.339}, "y": {"datum": -0.151, "axis": null}, "y2": {"datum": 1.043}}},
          {"mark": {"type": "rect", "fill": "white", "stroke": "black", "strokeWidth": 1}, "encoding": {"x": {"datum": 0.013, "axis": null}, "x2": {"datum": 0.333}, "y": {"datum": -0.367, "axis": null}, "y2": {"datum": 0.827}}},
          {"data": {"name": "t"}, "transform": [{"filter": "datum.p == 2"}], "mark": {"type": "text", "align": "center", "fontSize": 6}, "encoding": {"x": {"datum": 0.173, "axis": null}, "y": {"datum": 0.23, "axis": null}, "text": {"field": "title"}}}
        ]}
      ]},
      {"width": 235, "height": 157, "resolve": {"scale": {"x": "independent", "y": "independent"}}, "layer": [
        {"resolve": {"axis": {"x": "independent", "y": "independent"}}, "layer": [
          {"data": {"values": [{}]}, "mark": {"type": "rect", "filled": false, "stroke": "black", "strokeWidth": 1}, "encoding": {"x": {"datum": 0, "type": "quantitative", "scale": {"domain": [-0.0642, 0.5642], "nice": false, "zero": false}, "axis": null}, "x2": {"datum": 0.5}, "y": {"datum": 0, "type": "quantitative", "scale": {"domain": [-133.3, 1611.1], "nice": false, "zero": false}, "axis": null}, "y2": {"datum": 1400}}},
          {"data": {"name": "h3"}, "mark": {"type": "line", "interpolate": "step-after", "color": "black", "strokeWidth": 1}, "encoding": {"x": {"field": "x", "type": "quantitative", "axis": {"orient": "bottom", "offset": -12, "values": [0,0.05,0.1,0.15,0.2,0.25,0.3,0.35,0.4,0.45,0.5], "format": ".2~f", "tickSize": -4, "labelPadding": 6, "title": null, "maxExtent": 12}}, "y": {"field": "y", "type": "quantitative", "axis": {"orient": "left", "offset": -24, "values": [0,200,400,600,800,1000,1200], "format": "d", "tickSize": -5, "labelPadding": 8, "title": null, "maxExtent": 22}}}},
          {"data": {"name": "f3"}, "mark": {"type": "line", "interpolate": "monotone", "color": "black", "strokeWidth": 3.8}, "encoding": {"x": {"field": "x", "type": "quantitative", "axis": {"orient": "bottom", "offset": -12, "tickCount": 60, "labels": false, "tickSize": -2, "title": null, "maxExtent": 12, "encode": {"ticks": {"update": {"opacity": {"signal": "datum.value > -0.0001 && datum.value < 0.5001 ? 1 : 0"}}}}}}, "y": {"field": "y", "type": "quantitative", "axis": {"orient": "left", "offset": -24, "tickCount": 35, "labels": false, "tickSize": -2.5, "title": null, "maxExtent": 22, "encode": {"ticks": {"update": {"opacity": {"signal": "datum.value > -0.00001 && datum.value < 1400 ? 1 : 0"}}}}}}}}
        ]},
        {"data": {"values": [{}]}, "layer": [
          {"mark": {"type": "rect", "color": "black"}, "encoding": {"x": {"datum": 0.6235, "type": "quantitative", "scale": {"domain": [0, 1], "nice": false, "zero": false}, "axis": null}, "x2": {"datum": 0.9815}, "y": {"datum": -0.438, "type": "quantitative", "scale": {"domain": [-0.9424, 21.648], "nice": false, "zero": false, "reverse": true}, "axis": null}, "y2": {"datum": 11.79}}},
          {"mark": {"type": "rect", "fill": "white", "stroke": "black", "strokeWidth": 1}, "encoding": {"x": {"datum": 0.617, "axis": null}, "x2": {"datum": 0.975}, "y": {"datum": -0.654, "axis": null}, "y2": {"datum": 11.576}}},
          {"mark": {"type": "rule", "color": "black", "strokeWidth": 1}, "encoding": {"x": {"datum": 0.617, "axis": null}, "x2": {"datum": 0.975}, "y": {"datum": 0.57, "axis": null}}},
          {"data": {"name": "t"}, "transform": [{"filter": "datum.p == 3"}], "mark": {"type": "text", "align": "center"}, "encoding": {"x": {"datum": 0.796, "axis": null}, "y": {"datum": 0, "axis": null}, "text": {"field": "name"}}},
          {"data": {"name": "s"}, "transform": [{"filter": "datum.p == 3"}], "mark": {"type": "text", "align": "left"}, "encoding": {"x": {"datum": 0.624, "axis": null}, "y": {"field": "i", "type": "quantitative", "axis": null}, "text": {"field": "k"}}},
          {"data": {"name": "s"}, "transform": [{"filter": "datum.p == 3"}], "mark": {"type": "text", "align": "right"}, "encoding": {"x": {"datum": 0.969, "axis": null}, "y": {"field": "i", "type": "quantitative", "axis": null}, "text": {"field": "v"}}},
          {"mark": {"type": "rect", "color": "black"}, "encoding": {"x": {"datum": 0.0194, "axis": null}, "x2": {"datum": 0.339}, "y": {"datum": -0.151, "axis": null}, "y2": {"datum": 1.043}}},
          {"mark": {"type": "rect", "fill": "white", "stroke": "black", "strokeWidth": 1}, "encoding": {"x": {"datum": 0.013, "axis": null}, "x2": {"datum": 0.333}, "y": {"datum": -0.367, "axis": null}, "y2": {"datum": 0.827}}},
          {"data": {"name": "t"}, "transform": [{"filter": "datum.p == 3"}], "mark": {"type": "text", "align": "center", "fontSize": 6}, "encoding": {"x": {"datum": 0.173, "axis": null}, "y": {"datum": 0.23, "axis": null}, "text": {"field": "title"}}}
        ]}
      ]},
      {"width": 235, "height": 157, "resolve": {"scale": {"x": "independent", "y": "independent"}}, "layer": [
        {"resolve": {"axis": {"x": "independent", "y": "independent"}}, "layer": [
          {"data": {"values": [{}]}, "mark": {"type": "rect", "filled": false, "stroke": "black", "strokeWidth": 1}, "encoding": {"x": {"datum": 0, "type": "quantitative", "scale": {"domain": [-0.0642, 0.5642], "nice": false, "zero": false}, "axis": null}, "x2": {"datum": 0.5}, "y": {"datum": 0, "type": "quantitative", "scale": {"domain": [-44.76, 540.87], "nice": false, "zero": false}, "axis": null}, "y2": {"datum": 470}}},
          {"data": {"name": "h4"}, "mark": {"type": "line", "interpolate": "step-after", "color": "black", "strokeWidth": 1}, "encoding": {"x": {"field": "x", "type": "quantitative", "axis": {"orient": "bottom", "offset": -12, "values": [0,0.05,0.1,0.15,0.2,0.25,0.3,0.35,0.4,0.45,0.5], "format": ".2~f", "tickSize": -4, "labelPadding": 6, "title": null, "maxExtent": 12}}, "y": {"field": "y", "type": "quantitative", "axis": {"orient": "left", "offset": -24, "values": [0,50,100,150,200,250,300,350,400,450], "format": "d", "tickSize": -5, "labelPadding": 8, "title": null, "maxExtent": 22}}}},
          {"data": {"name": "f4"}, "mark": {"type": "line", "interpolate": "monotone", "color": "black", "strokeWidth": 3.8}, "encoding": {"x": {"field": "x", "type": "quantitative", "axis": {"orient": "bottom", "offset": -12, "tickCount": 60, "labels": false, "tickSize": -2, "title": null, "maxExtent": 12, "encode": {"ticks": {"update": {"opacity": {"signal": "datum.value > -0.0001 && datum.value < 0.5001 ? 1 : 0"}}}}}}, "y": {"field": "y", "type": "quantitative", "axis": {"orient": "left", "offset": -24, "tickCount": 58, "labels": false, "tickSize": -2.5, "title": null, "maxExtent": 22, "encode": {"ticks": {"update": {"opacity": {"signal": "datum.value > -0.00001 && datum.value < 470 ? 1 : 0"}}}}}}}}
        ]},
        {"data": {"values": [{}]}, "layer": [
          {"mark": {"type": "rect", "color": "black"}, "encoding": {"x": {"datum": 0.6235, "type": "quantitative", "scale": {"domain": [0, 1], "nice": false, "zero": false}, "axis": null}, "x2": {"datum": 0.9815}, "y": {"datum": -0.438, "type": "quantitative", "scale": {"domain": [-0.9424, 21.648], "nice": false, "zero": false, "reverse": true}, "axis": null}, "y2": {"datum": 11.79}}},
          {"mark": {"type": "rect", "fill": "white", "stroke": "black", "strokeWidth": 1}, "encoding": {"x": {"datum": 0.617, "axis": null}, "x2": {"datum": 0.975}, "y": {"datum": -0.654, "axis": null}, "y2": {"datum": 11.576}}},
          {"mark": {"type": "rule", "color": "black", "strokeWidth": 1}, "encoding": {"x": {"datum": 0.617, "axis": null}, "x2": {"datum": 0.975}, "y": {"datum": 0.57, "axis": null}}},
          {"data": {"name": "t"}, "transform": [{"filter": "datum.p == 4"}], "mark": {"type": "text", "align": "center"}, "encoding": {"x": {"datum": 0.796, "axis": null}, "y": {"datum": 0, "axis": null}, "text": {"field": "name"}}},
          {"data": {"name": "s"}, "transform": [{"filter": "datum.p == 4"}], "mark": {"type": "text", "align": "left"}, "encoding": {"x": {"datum": 0.624, "axis": null}, "y": {"field": "i", "type": "quantitative", "axis": null}, "text": {"field": "k"}}},
          {"data": {"name": "s"}, "transform": [{"filter": "datum.p == 4"}], "mark": {"type": "text", "align": "right"}, "encoding": {"x": {"datum": 0.969, "axis": null}, "y": {"field": "i", "type": "quantitative", "axis": null}, "text": {"field": "v"}}},
          {"mark": {"type": "rect", "color": "black"}, "encoding": {"x": {"datum": 0.0194, "axis": null}, "x2": {"datum": 0.339}, "y": {"datum": -0.151, "axis": null}, "y2": {"datum": 1.043}}},
          {"mark": {"type": "rect", "fill": "white", "stroke": "black", "strokeWidth": 1}, "encoding": {"x": {"datum": 0.013, "axis": null}, "x2": {"datum": 0.333}, "y": {"datum": -0.367, "axis": null}, "y2": {"datum": 0.827}}},
          {"data": {"name": "t"}, "transform": [{"filter": "datum.p == 4"}], "mark": {"type": "text", "align": "center", "fontSize": 6}, "encoding": {"x": {"datum": 0.173, "axis": null}, "y": {"datum": 0.23, "axis": null}, "text": {"field": "title"}}}
        ]}
      ]}
    ]},
    {"bounds": "flush", "spacing": 17, "hconcat": [
      {"width": 235, "height": 157, "resolve": {"scale": {"x": "independent", "y": "independent"}}, "layer": [
        {"resolve": {"axis": {"x": "independent", "y": "independent"}}, "layer": [
          {"data": {"values": [{}]}, "mark": {"type": "rect", "filled": false, "stroke": "black", "strokeWidth": 1}, "encoding": {"x": {"datum": 0, "type": "quantitative", "scale": {"domain": [-0.0642, 0.5642], "nice": false, "zero": false}, "axis": null}, "x2": {"datum": 0.5}, "y": {"datum": 0, "type": "quantitative", "scale": {"domain": [-32.1, 387.82], "nice": false, "zero": false}, "axis": null}, "y2": {"datum": 337}}},
          {"data": {"name": "h5"}, "mark": {"type": "line", "interpolate": "step-after", "color": "black", "strokeWidth": 1}, "encoding": {"x": {"field": "x", "type": "quantitative", "axis": {"orient": "bottom", "offset": -12, "values": [0,0.05,0.1,0.15,0.2,0.25,0.3,0.35,0.4,0.45,0.5], "format": ".2~f", "tickSize": -4, "labelPadding": 6, "title": null, "maxExtent": 12}}, "y": {"field": "y", "type": "quantitative", "axis": {"orient": "left", "offset": -24, "values": [0,50,100,150,200,250,300], "format": "d", "tickSize": -5, "labelPadding": 8, "title": null, "maxExtent": 22}}}},
          {"data": {"name": "f5"}, "mark": {"type": "line", "interpolate": "monotone", "color": "black", "strokeWidth": 3.8}, "encoding": {"x": {"field": "x", "type": "quantitative", "axis": {"orient": "bottom", "offset": -12, "tickCount": 60, "labels": false, "tickSize": -2, "title": null, "maxExtent": 12, "encode": {"ticks": {"update": {"opacity": {"signal": "datum.value > -0.0001 && datum.value < 0.5001 ? 1 : 0"}}}}}}, "y": {"field": "y", "type": "quantitative", "axis": {"orient": "left", "offset": -24, "tickCount": 42, "labels": false, "tickSize": -2.5, "title": null, "maxExtent": 22, "encode": {"ticks": {"update": {"opacity": {"signal": "datum.value > -0.00001 && datum.value < 337 ? 1 : 0"}}}}}}}}
        ]},
        {"data": {"values": [{}]}, "layer": [
          {"mark": {"type": "rect", "color": "black"}, "encoding": {"x": {"datum": 0.6235, "type": "quantitative", "scale": {"domain": [0, 1], "nice": false, "zero": false}, "axis": null}, "x2": {"datum": 0.9815}, "y": {"datum": -0.438, "type": "quantitative", "scale": {"domain": [-0.9424, 21.648], "nice": false, "zero": false, "reverse": true}, "axis": null}, "y2": {"datum": 11.79}}},
          {"mark": {"type": "rect", "fill": "white", "stroke": "black", "strokeWidth": 1}, "encoding": {"x": {"datum": 0.617, "axis": null}, "x2": {"datum": 0.975}, "y": {"datum": -0.654, "axis": null}, "y2": {"datum": 11.576}}},
          {"mark": {"type": "rule", "color": "black", "strokeWidth": 1}, "encoding": {"x": {"datum": 0.617, "axis": null}, "x2": {"datum": 0.975}, "y": {"datum": 0.57, "axis": null}}},
          {"data": {"name": "t"}, "transform": [{"filter": "datum.p == 5"}], "mark": {"type": "text", "align": "center"}, "encoding": {"x": {"datum": 0.796, "axis": null}, "y": {"datum": 0, "axis": null}, "text": {"field": "name"}}},
          {"data": {"name": "s"}, "transform": [{"filter": "datum.p == 5"}], "mark": {"type": "text", "align": "left"}, "encoding": {"x": {"datum": 0.624, "axis": null}, "y": {"field": "i", "type": "quantitative", "axis": null}, "text": {"field": "k"}}},
          {"data": {"name": "s"}, "transform": [{"filter": "datum.p == 5"}], "mark": {"type": "text", "align": "right"}, "encoding": {"x": {"datum": 0.969, "axis": null}, "y": {"field": "i", "type": "quantitative", "axis": null}, "text": {"field": "v"}}},
          {"mark": {"type": "rect", "color": "black"}, "encoding": {"x": {"datum": 0.0194, "axis": null}, "x2": {"datum": 0.339}, "y": {"datum": -0.151, "axis": null}, "y2": {"datum": 1.043}}},
          {"mark": {"type": "rect", "fill": "white", "stroke": "black", "strokeWidth": 1}, "encoding": {"x": {"datum": 0.013, "axis": null}, "x2": {"datum": 0.333}, "y": {"datum": -0.367, "axis": null}, "y2": {"datum": 0.827}}},
          {"data": {"name": "t"}, "transform": [{"filter": "datum.p == 5"}], "mark": {"type": "text", "align": "center", "fontSize": 6}, "encoding": {"x": {"datum": 0.173, "axis": null}, "y": {"datum": 0.23, "axis": null}, "text": {"field": "title"}}}
        ]}
      ]},
      {"width": 235, "height": 157, "resolve": {"scale": {"x": "independent", "y": "independent"}}, "layer": [
        {"resolve": {"axis": {"x": "independent", "y": "independent"}}, "layer": [
          {"data": {"values": [{}]}, "mark": {"type": "rect", "filled": false, "stroke": "black", "strokeWidth": 1}, "encoding": {"x": {"datum": 0, "type": "quantitative", "scale": {"domain": [-0.0642, 0.5642], "nice": false, "zero": false}, "axis": null}, "x2": {"datum": 0.5}, "y": {"datum": 0, "type": "quantitative", "scale": {"domain": [-12.95, 156.51], "nice": false, "zero": false}, "axis": null}, "y2": {"datum": 136}}},
          {"data": {"name": "h6"}, "mark": {"type": "line", "interpolate": "step-after", "color": "black", "strokeWidth": 1}, "encoding": {"x": {"field": "x", "type": "quantitative", "axis": {"orient": "bottom", "offset": -12, "values": [0,0.05,0.1,0.15,0.2,0.25,0.3,0.35,0.4,0.45,0.5], "format": ".2~f", "tickSize": -4, "labelPadding": 6, "title": null, "maxExtent": 12}}, "y": {"field": "y", "type": "quantitative", "axis": {"orient": "left", "offset": -24, "values": [0,20,40,60,80,100,120], "format": "d", "tickSize": -5, "labelPadding": 8, "title": null, "maxExtent": 22}}}},
          {"data": {"name": "f6"}, "mark": {"type": "line", "interpolate": "monotone", "color": "black", "strokeWidth": 3.8}, "encoding": {"x": {"field": "x", "type": "quantitative", "axis": {"orient": "bottom", "offset": -12, "tickCount": 60, "labels": false, "tickSize": -2, "title": null, "maxExtent": 12, "encode": {"ticks": {"update": {"opacity": {"signal": "datum.value > -0.0001 && datum.value < 0.5001 ? 1 : 0"}}}}}}, "y": {"field": "y", "type": "quantitative", "axis": {"orient": "left", "offset": -24, "tickCount": 34, "labels": false, "tickSize": -2.5, "title": null, "maxExtent": 22, "encode": {"ticks": {"update": {"opacity": {"signal": "datum.value > -0.00001 && datum.value < 136 ? 1 : 0"}}}}}}}}
        ]},
        {"data": {"values": [{}]}, "layer": [
          {"mark": {"type": "rect", "color": "black"}, "encoding": {"x": {"datum": 0.6235, "type": "quantitative", "scale": {"domain": [0, 1], "nice": false, "zero": false}, "axis": null}, "x2": {"datum": 0.9815}, "y": {"datum": -0.438, "type": "quantitative", "scale": {"domain": [-0.9424, 21.648], "nice": false, "zero": false, "reverse": true}, "axis": null}, "y2": {"datum": 11.79}}},
          {"mark": {"type": "rect", "fill": "white", "stroke": "black", "strokeWidth": 1}, "encoding": {"x": {"datum": 0.617, "axis": null}, "x2": {"datum": 0.975}, "y": {"datum": -0.654, "axis": null}, "y2": {"datum": 11.576}}},
          {"mark": {"type": "rule", "color": "black", "strokeWidth": 1}, "encoding": {"x": {"datum": 0.617, "axis": null}, "x2": {"datum": 0.975}, "y": {"datum": 0.57, "axis": null}}},
          {"data": {"name": "t"}, "transform": [{"filter": "datum.p == 6"}], "mark": {"type": "text", "align": "center"}, "encoding": {"x": {"datum": 0.796, "axis": null}, "y": {"datum": 0, "axis": null}, "text": {"field": "name"}}},
          {"data": {"name": "s"}, "transform": [{"filter": "datum.p == 6"}], "mark": {"type": "text", "align": "left"}, "encoding": {"x": {"datum": 0.624, "axis": null}, "y": {"field": "i", "type": "quantitative", "axis": null}, "text": {"field": "k"}}},
          {"data": {"name": "s"}, "transform": [{"filter": "datum.p == 6"}], "mark": {"type": "text", "align": "right"}, "encoding": {"x": {"datum": 0.969, "axis": null}, "y": {"field": "i", "type": "quantitative", "axis": null}, "text": {"field": "v"}}},
          {"mark": {"type": "rect", "color": "black"}, "encoding": {"x": {"datum": 0.0194, "axis": null}, "x2": {"datum": 0.339}, "y": {"datum": -0.151, "axis": null}, "y2": {"datum": 1.043}}},
          {"mark": {"type": "rect", "fill": "white", "stroke": "black", "strokeWidth": 1}, "encoding": {"x": {"datum": 0.013, "axis": null}, "x2": {"datum": 0.333}, "y": {"datum": -0.367, "axis": null}, "y2": {"datum": 0.827}}},
          {"data": {"name": "t"}, "transform": [{"filter": "datum.p == 6"}], "mark": {"type": "text", "align": "center", "fontSize": 6}, "encoding": {"x": {"datum": 0.173, "axis": null}, "y": {"datum": 0.23, "axis": null}, "text": {"field": "title"}}}
        ]}
      ]},
      {"width": 235, "height": 157, "resolve": {"scale": {"x": "independent", "y": "independent"}}, "layer": [
        {"resolve": {"axis": {"x": "independent", "y": "independent"}}, "layer": [
          {"data": {"values": [{}]}, "mark": {"type": "rect", "filled": false, "stroke": "black", "strokeWidth": 1}, "encoding": {"x": {"datum": 0, "type": "quantitative", "scale": {"domain": [-0.0642, 0.5642], "nice": false, "zero": false}, "axis": null}, "x2": {"datum": 0.5}, "y": {"datum": 0, "type": "quantitative", "scale": {"domain": [-5.81, 70.2], "nice": false, "zero": false}, "axis": null}, "y2": {"datum": 61}}},
          {"data": {"name": "h7"}, "mark": {"type": "line", "interpolate": "step-after", "color": "black", "strokeWidth": 1}, "encoding": {"x": {"field": "x", "type": "quantitative", "axis": {"orient": "bottom", "offset": -12, "values": [0,0.05,0.1,0.15,0.2,0.25,0.3,0.35,0.4,0.45,0.5], "format": ".2~f", "tickSize": -4, "labelPadding": 6, "title": null, "maxExtent": 12}}, "y": {"field": "y", "type": "quantitative", "axis": {"orient": "left", "offset": -24, "values": [0,10,20,30,40,50,60], "format": "d", "tickSize": -5, "labelPadding": 8, "title": null, "maxExtent": 22}}}},
          {"data": {"name": "f7"}, "mark": {"type": "line", "interpolate": "monotone", "color": "black", "strokeWidth": 3.8}, "encoding": {"x": {"field": "x", "type": "quantitative", "axis": {"orient": "bottom", "offset": -12, "tickCount": 60, "labels": false, "tickSize": -2, "title": null, "maxExtent": 12, "encode": {"ticks": {"update": {"opacity": {"signal": "datum.value > -0.0001 && datum.value < 0.5001 ? 1 : 0"}}}}}}, "y": {"field": "y", "type": "quantitative", "axis": {"orient": "left", "offset": -24, "tickCount": 38, "labels": false, "tickSize": -2.5, "title": null, "maxExtent": 22, "encode": {"ticks": {"update": {"opacity": {"signal": "datum.value > -0.00001 && datum.value < 61 ? 1 : 0"}}}}}}}}
        ]},
        {"data": {"values": [{}]}, "layer": [
          {"mark": {"type": "rect", "color": "black"}, "encoding": {"x": {"datum": 0.6235, "type": "quantitative", "scale": {"domain": [0, 1], "nice": false, "zero": false}, "axis": null}, "x2": {"datum": 0.9815}, "y": {"datum": -0.438, "type": "quantitative", "scale": {"domain": [-0.9424, 21.648], "nice": false, "zero": false, "reverse": true}, "axis": null}, "y2": {"datum": 11.79}}},
          {"mark": {"type": "rect", "fill": "white", "stroke": "black", "strokeWidth": 1}, "encoding": {"x": {"datum": 0.617, "axis": null}, "x2": {"datum": 0.975}, "y": {"datum": -0.654, "axis": null}, "y2": {"datum": 11.576}}},
          {"mark": {"type": "rule", "color": "black", "strokeWidth": 1}, "encoding": {"x": {"datum": 0.617, "axis": null}, "x2": {"datum": 0.975}, "y": {"datum": 0.57, "axis": null}}},
          {"data": {"name": "t"}, "transform": [{"filter": "datum.p == 7"}], "mark": {"type": "text", "align": "center"}, "encoding": {"x": {"datum": 0.796, "axis": null}, "y": {"datum": 0, "axis": null}, "text": {"field": "name"}}},
          {"data": {"name": "s"}, "transform": [{"filter": "datum.p == 7"}], "mark": {"type": "text", "align": "left"}, "encoding": {"x": {"datum": 0.624, "axis": null}, "y": {"field": "i", "type": "quantitative", "axis": null}, "text": {"field": "k"}}},
          {"data": {"name": "s"}, "transform": [{"filter": "datum.p == 7"}], "mark": {"type": "text", "align": "right"}, "encoding": {"x": {"datum": 0.969, "axis": null}, "y": {"field": "i", "type": "quantitative", "axis": null}, "text": {"field": "v"}}},
          {"mark": {"type": "rect", "color": "black"}, "encoding": {"x": {"datum": 0.0194, "axis": null}, "x2": {"datum": 0.339}, "y": {"datum": -0.151, "axis": null}, "y2": {"datum": 1.043}}},
          {"mark": {"type": "rect", "fill": "white", "stroke": "black", "strokeWidth": 1}, "encoding": {"x": {"datum": 0.013, "axis": null}, "x2": {"datum": 0.333}, "y": {"datum": -0.367, "axis": null}, "y2": {"datum": 0.827}}},
          {"data": {"name": "t"}, "transform": [{"filter": "datum.p == 7"}], "mark": {"type": "text", "align": "center", "fontSize": 6}, "encoding": {"x": {"datum": 0.173, "axis": null}, "y": {"datum": 0.23, "axis": null}, "text": {"field": "title"}}}
        ]}
      ]},
      {"width": 235, "height": 157, "resolve": {"scale": {"x": "independent", "y": "independent"}}, "layer": [
        {"resolve": {"axis": {"x": "independent", "y": "independent"}}, "layer": [
          {"data": {"values": [{}]}, "mark": {"type": "rect", "filled": false, "stroke": "black", "strokeWidth": 1}, "encoding": {"x": {"datum": 0, "type": "quantitative", "scale": {"domain": [-0.0642, 0.5642], "nice": false, "zero": false}, "axis": null}, "x2": {"datum": 0.5}, "y": {"datum": 0, "type": "quantitative", "scale": {"domain": [-3.391, 40.968], "nice": false, "zero": false}, "axis": null}, "y2": {"datum": 35.6}}},
          {"data": {"name": "h8"}, "mark": {"type": "line", "interpolate": "step-after", "color": "black", "strokeWidth": 1}, "encoding": {"x": {"field": "x", "type": "quantitative", "axis": {"orient": "bottom", "offset": -12, "values": [0,0.05,0.1,0.15,0.2,0.25,0.3,0.35,0.4,0.45,0.5], "format": ".2~f", "tickSize": -4, "labelPadding": 6, "title": null, "maxExtent": 12}}, "y": {"field": "y", "type": "quantitative", "axis": {"orient": "left", "offset": -24, "values": [0,5,10,15,20,25,30,35], "format": "d", "tickSize": -5, "labelPadding": 8, "title": null, "maxExtent": 22}}}},
          {"data": {"name": "f8"}, "mark": {"type": "line", "interpolate": "monotone", "color": "black", "strokeWidth": 3.8}, "encoding": {"x": {"field": "x", "type": "quantitative", "axis": {"orient": "bottom", "offset": -12, "tickCount": 60, "labels": false, "tickSize": -2, "title": null, "maxExtent": 12, "encode": {"ticks": {"update": {"opacity": {"signal": "datum.value > -0.0001 && datum.value < 0.5001 ? 1 : 0"}}}}}}, "y": {"field": "y", "type": "quantitative", "axis": {"orient": "left", "offset": -24, "tickCount": 44, "labels": false, "tickSize": -2.5, "title": null, "maxExtent": 22, "encode": {"ticks": {"update": {"opacity": {"signal": "datum.value > -0.00001 && datum.value < 35.6 ? 1 : 0"}}}}}}}}
        ]},
        {"data": {"values": [{}]}, "layer": [
          {"mark": {"type": "rect", "color": "black"}, "encoding": {"x": {"datum": 0.6235, "type": "quantitative", "scale": {"domain": [0, 1], "nice": false, "zero": false}, "axis": null}, "x2": {"datum": 0.9815}, "y": {"datum": -0.438, "type": "quantitative", "scale": {"domain": [-0.9424, 21.648], "nice": false, "zero": false, "reverse": true}, "axis": null}, "y2": {"datum": 11.79}}},
          {"mark": {"type": "rect", "fill": "white", "stroke": "black", "strokeWidth": 1}, "encoding": {"x": {"datum": 0.617, "axis": null}, "x2": {"datum": 0.975}, "y": {"datum": -0.654, "axis": null}, "y2": {"datum": 11.576}}},
          {"mark": {"type": "rule", "color": "black", "strokeWidth": 1}, "encoding": {"x": {"datum": 0.617, "axis": null}, "x2": {"datum": 0.975}, "y": {"datum": 0.57, "axis": null}}},
          {"data": {"name": "t"}, "transform": [{"filter": "datum.p == 8"}], "mark": {"type": "text", "align": "center"}, "encoding": {"x": {"datum": 0.796, "axis": null}, "y": {"datum": 0, "axis": null}, "text": {"field": "name"}}},
          {"data": {"name": "s"}, "transform": [{"filter": "datum.p == 8"}], "mark": {"type": "text", "align": "left"}, "encoding": {"x": {"datum": 0.624, "axis": null}, "y": {"field": "i", "type": "quantitative", "axis": null}, "text": {"field": "k"}}},
          {"data": {"name": "s"}, "transform": [{"filter": "datum.p == 8"}], "mark": {"type": "text", "align": "right"}, "encoding": {"x": {"datum": 0.969, "axis": null}, "y": {"field": "i", "type": "quantitative", "axis": null}, "text": {"field": "v"}}},
          {"mark": {"type": "rect", "color": "black"}, "encoding": {"x": {"datum": 0.0194, "axis": null}, "x2": {"datum": 0.339}, "y": {"datum": -0.151, "axis": null}, "y2": {"datum": 1.043}}},
          {"mark": {"type": "rect", "fill": "white", "stroke": "black", "strokeWidth": 1}, "encoding": {"x": {"datum": 0.013, "axis": null}, "x2": {"datum": 0.333}, "y": {"datum": -0.367, "axis": null}, "y2": {"datum": 0.827}}},
          {"data": {"name": "t"}, "transform": [{"filter": "datum.p == 8"}], "mark": {"type": "text", "align": "center", "fontSize": 6}, "encoding": {"x": {"datum": 0.173, "axis": null}, "y": {"datum": 0.23, "axis": null}, "text": {"field": "title"}}}
        ]}
      ]}
    ]},
    {"bounds": "flush", "spacing": 17, "hconcat": [
      {"width": 235, "height": 157, "resolve": {"scale": {"x": "independent", "y": "independent"}}, "layer": [
        {"resolve": {"axis": {"x": "independent", "y": "independent"}}, "layer": [
          {"data": {"values": [{}]}, "mark": {"type": "rect", "filled": false, "stroke": "black", "strokeWidth": 1}, "encoding": {"x": {"datum": 0, "type": "quantitative", "scale": {"domain": [-0.0642, 0.5642], "nice": false, "zero": false}, "axis": null}, "x2": {"datum": 0.5}, "y": {"datum": 0, "type": "quantitative", "scale": {"domain": [-2.971, 35.905], "nice": false, "zero": false}, "axis": null}, "y2": {"datum": 31.2}}},
          {"data": {"name": "h9"}, "mark": {"type": "line", "interpolate": "step-after", "color": "black", "strokeWidth": 1}, "encoding": {"x": {"field": "x", "type": "quantitative", "axis": {"orient": "bottom", "offset": -12, "values": [0,0.05,0.1,0.15,0.2,0.25,0.3,0.35,0.4,0.45,0.5], "format": ".2~f", "tickSize": -4, "labelPadding": 6, "title": null, "maxExtent": 12}}, "y": {"field": "y", "type": "quantitative", "axis": {"orient": "left", "offset": -24, "values": [0,5,10,15,20,25,30], "format": "d", "tickSize": -5, "labelPadding": 8, "title": null, "maxExtent": 22}}}},
          {"data": {"name": "f9"}, "mark": {"type": "line", "interpolate": "monotone", "color": "black", "strokeWidth": 3.8}, "encoding": {"x": {"field": "x", "type": "quantitative", "axis": {"orient": "bottom", "offset": -12, "tickCount": 60, "labels": false, "tickSize": -2, "title": null, "maxExtent": 12, "encode": {"ticks": {"update": {"opacity": {"signal": "datum.value > -0.0001 && datum.value < 0.5001 ? 1 : 0"}}}}}}, "y": {"field": "y", "type": "quantitative", "axis": {"orient": "left", "offset": -24, "tickCount": 39, "labels": false, "tickSize": -2.5, "title": null, "maxExtent": 22, "encode": {"ticks": {"update": {"opacity": {"signal": "datum.value > -0.00001 && datum.value < 31.2 ? 1 : 0"}}}}}}}}
        ]},
        {"data": {"values": [{}]}, "layer": [
          {"mark": {"type": "rect", "color": "black"}, "encoding": {"x": {"datum": 0.6235, "type": "quantitative", "scale": {"domain": [0, 1], "nice": false, "zero": false}, "axis": null}, "x2": {"datum": 0.9815}, "y": {"datum": -0.438, "type": "quantitative", "scale": {"domain": [-0.9424, 21.648], "nice": false, "zero": false, "reverse": true}, "axis": null}, "y2": {"datum": 11.79}}},
          {"mark": {"type": "rect", "fill": "white", "stroke": "black", "strokeWidth": 1}, "encoding": {"x": {"datum": 0.617, "axis": null}, "x2": {"datum": 0.975}, "y": {"datum": -0.654, "axis": null}, "y2": {"datum": 11.576}}},
          {"mark": {"type": "rule", "color": "black", "strokeWidth": 1}, "encoding": {"x": {"datum": 0.617, "axis": null}, "x2": {"datum": 0.975}, "y": {"datum": 0.57, "axis": null}}},
          {"data": {"name": "t"}, "transform": [{"filter": "datum.p == 9"}], "mark": {"type": "text", "align": "center"}, "encoding": {"x": {"datum": 0.796, "axis": null}, "y": {"datum": 0, "axis": null}, "text": {"field": "name"}}},
          {"data": {"name": "s"}, "transform": [{"filter": "datum.p == 9"}], "mark": {"type": "text", "align": "left"}, "encoding": {"x": {"datum": 0.624, "axis": null}, "y": {"field": "i", "type": "quantitative", "axis": null}, "text": {"field": "k"}}},
          {"data": {"name": "s"}, "transform": [{"filter": "datum.p == 9"}], "mark": {"type": "text", "align": "right"}, "encoding": {"x": {"datum": 0.969, "axis": null}, "y": {"field": "i", "type": "quantitative", "axis": null}, "text": {"field": "v"}}},
          {"mark": {"type": "rect", "color": "black"}, "encoding": {"x": {"datum": 0.0194, "axis": null}, "x2": {"datum": 0.339}, "y": {"datum": -0.151, "axis": null}, "y2": {"datum": 1.043}}},
          {"mark": {"type": "rect", "fill": "white", "stroke": "black", "strokeWidth": 1}, "encoding": {"x": {"datum": 0.013, "axis": null}, "x2": {"datum": 0.333}, "y": {"datum": -0.367, "axis": null}, "y2": {"datum": 0.827}}},
          {"data": {"name": "t"}, "transform": [{"filter": "datum.p == 9"}], "mark": {"type": "text", "align": "center", "fontSize": 6}, "encoding": {"x": {"datum": 0.173, "axis": null}, "y": {"datum": 0.23, "axis": null}, "text": {"field": "title"}}}
        ]}
      ]},
      {"width": 235, "height": 157, "resolve": {"scale": {"x": "independent", "y": "independent"}}, "layer": [
        {"resolve": {"axis": {"x": "independent", "y": "independent"}}, "layer": [
          {"data": {"values": [{}]}, "mark": {"type": "rect", "filled": false, "stroke": "black", "strokeWidth": 1}, "encoding": {"x": {"datum": 0, "type": "quantitative", "scale": {"domain": [-0.0642, 0.5642], "nice": false, "zero": false}, "axis": null}, "x2": {"datum": 0.5}, "y": {"datum": 0, "type": "quantitative", "scale": {"domain": [-1.2, 14.5], "nice": false, "zero": false}, "axis": null}, "y2": {"datum": 12.6}}},
          {"data": {"name": "h10"}, "mark": {"type": "line", "interpolate": "step-after", "color": "black", "strokeWidth": 1}, "encoding": {"x": {"field": "x", "type": "quantitative", "axis": {"orient": "bottom", "offset": -12, "values": [0,0.05,0.1,0.15,0.2,0.25,0.3,0.35,0.4,0.45,0.5], "format": ".2~f", "tickSize": -4, "labelPadding": 6, "title": null, "maxExtent": 12}}, "y": {"field": "y", "type": "quantitative", "axis": {"orient": "left", "offset": -24, "values": [0,2,4,6,8,10,12], "format": "d", "tickSize": -5, "labelPadding": 8, "title": null, "maxExtent": 22}}}},
          {"data": {"name": "f10"}, "mark": {"type": "line", "interpolate": "monotone", "color": "black", "strokeWidth": 3.8}, "encoding": {"x": {"field": "x", "type": "quantitative", "axis": {"orient": "bottom", "offset": -12, "tickCount": 60, "labels": false, "tickSize": -2, "title": null, "maxExtent": 12, "encode": {"ticks": {"update": {"opacity": {"signal": "datum.value > -0.0001 && datum.value < 0.5001 ? 1 : 0"}}}}}}, "y": {"field": "y", "type": "quantitative", "axis": {"orient": "left", "offset": -24, "tickCount": 31, "labels": false, "tickSize": -2.5, "title": null, "maxExtent": 22, "encode": {"ticks": {"update": {"opacity": {"signal": "datum.value > -0.00001 && datum.value < 12.6 ? 1 : 0"}}}}}}}}
        ]},
        {"data": {"values": [{}]}, "layer": [
          {"mark": {"type": "rect", "color": "black"}, "encoding": {"x": {"datum": 0.6235, "type": "quantitative", "scale": {"domain": [0, 1], "nice": false, "zero": false}, "axis": null}, "x2": {"datum": 0.9815}, "y": {"datum": -0.438, "type": "quantitative", "scale": {"domain": [-0.9424, 21.648], "nice": false, "zero": false, "reverse": true}, "axis": null}, "y2": {"datum": 11.79}}},
          {"mark": {"type": "rect", "fill": "white", "stroke": "black", "strokeWidth": 1}, "encoding": {"x": {"datum": 0.617, "axis": null}, "x2": {"datum": 0.975}, "y": {"datum": -0.654, "axis": null}, "y2": {"datum": 11.576}}},
          {"mark": {"type": "rule", "color": "black", "strokeWidth": 1}, "encoding": {"x": {"datum": 0.617, "axis": null}, "x2": {"datum": 0.975}, "y": {"datum": 0.57, "axis": null}}},
          {"data": {"name": "t"}, "transform": [{"filter": "datum.p == 10"}], "mark": {"type": "text", "align": "center"}, "encoding": {"x": {"datum": 0.796, "axis": null}, "y": {"datum": 0, "axis": null}, "text": {"field": "name"}}},
          {"data": {"name": "s"}, "transform": [{"filter": "datum.p == 10"}], "mark": {"type": "text", "align": "left"}, "encoding": {"x": {"datum": 0.624, "axis": null}, "y": {"field": "i", "type": "quantitative", "axis": null}, "text": {"field": "k"}}},
          {"data": {"name": "s"}, "transform": [{"filter": "datum.p == 10"}], "mark": {"type": "text", "align": "right"}, "encoding": {"x": {"datum": 0.969, "axis": null}, "y": {"field": "i", "type": "quantitative", "axis": null}, "text": {"field": "v"}}},
          {"mark": {"type": "rect", "color": "black"}, "encoding": {"x": {"datum": 0.0194, "axis": null}, "x2": {"datum": 0.339}, "y": {"datum": -0.151, "axis": null}, "y2": {"datum": 1.043}}},
          {"mark": {"type": "rect", "fill": "white", "stroke": "black", "strokeWidth": 1}, "encoding": {"x": {"datum": 0.013, "axis": null}, "x2": {"datum": 0.333}, "y": {"datum": -0.367, "axis": null}, "y2": {"datum": 0.827}}},
          {"data": {"name": "t"}, "transform": [{"filter": "datum.p == 10"}], "mark": {"type": "text", "align": "center", "fontSize": 6}, "encoding": {"x": {"datum": 0.173, "axis": null}, "y": {"datum": 0.23, "axis": null}, "text": {"field": "title"}}}
        ]}
      ]},
      {"width": 235, "height": 157, "resolve": {"scale": {"x": "independent", "y": "independent"}}, "layer": [
        {"resolve": {"axis": {"x": "independent", "y": "independent"}}, "layer": [
          {"data": {"values": [{}]}, "mark": {"type": "rect", "filled": false, "stroke": "black", "strokeWidth": 1}, "encoding": {"x": {"datum": 0, "type": "quantitative", "scale": {"domain": [-0.0642, 0.5642], "nice": false, "zero": false}, "axis": null}, "x2": {"datum": 0.5}, "y": {"datum": 0, "type": "quantitative", "scale": {"domain": [-1.095, 13.234], "nice": false, "zero": false}, "axis": null}, "y2": {"datum": 11.5}}},
          {"data": {"name": "h11"}, "mark": {"type": "line", "interpolate": "step-after", "color": "black", "strokeWidth": 1}, "encoding": {"x": {"field": "x", "type": "quantitative", "axis": {"orient": "bottom", "offset": -12, "values": [0,0.05,0.1,0.15,0.2,0.25,0.3,0.35,0.4,0.45,0.5], "format": ".2~f", "tickSize": -4, "labelPadding": 6, "title": null, "maxExtent": 12}}, "y": {"field": "y", "type": "quantitative", "axis": {"orient": "left", "offset": -24, "values": [0,2,4,6,8,10], "format": "d", "tickSize": -5, "labelPadding": 8, "title": null, "maxExtent": 22}}}},
          {"data": {"name": "f11"}, "mark": {"type": "line", "interpolate": "monotone", "color": "black", "strokeWidth": 3.8}, "encoding": {"x": {"field": "x", "type": "quantitative", "axis": {"orient": "bottom", "offset": -12, "tickCount": 60, "labels": false, "tickSize": -2, "title": null, "maxExtent": 12, "encode": {"ticks": {"update": {"opacity": {"signal": "datum.value > -0.0001 && datum.value < 0.5001 ? 1 : 0"}}}}}}, "y": {"field": "y", "type": "quantitative", "axis": {"orient": "left", "offset": -24, "tickCount": 29, "labels": false, "tickSize": -2.5, "title": null, "maxExtent": 22, "encode": {"ticks": {"update": {"opacity": {"signal": "datum.value > -0.00001 && datum.value < 11.5 ? 1 : 0"}}}}}}}}
        ]},
        {"data": {"values": [{}]}, "layer": [
          {"mark": {"type": "rect", "color": "black"}, "encoding": {"x": {"datum": 0.6235, "type": "quantitative", "scale": {"domain": [0, 1], "nice": false, "zero": false}, "axis": null}, "x2": {"datum": 0.9815}, "y": {"datum": -0.438, "type": "quantitative", "scale": {"domain": [-0.9424, 21.648], "nice": false, "zero": false, "reverse": true}, "axis": null}, "y2": {"datum": 11.79}}},
          {"mark": {"type": "rect", "fill": "white", "stroke": "black", "strokeWidth": 1}, "encoding": {"x": {"datum": 0.617, "axis": null}, "x2": {"datum": 0.975}, "y": {"datum": -0.654, "axis": null}, "y2": {"datum": 11.576}}},
          {"mark": {"type": "rule", "color": "black", "strokeWidth": 1}, "encoding": {"x": {"datum": 0.617, "axis": null}, "x2": {"datum": 0.975}, "y": {"datum": 0.57, "axis": null}}},
          {"data": {"name": "t"}, "transform": [{"filter": "datum.p == 11"}], "mark": {"type": "text", "align": "center"}, "encoding": {"x": {"datum": 0.796, "axis": null}, "y": {"datum": 0, "axis": null}, "text": {"field": "name"}}},
          {"data": {"name": "s"}, "transform": [{"filter": "datum.p == 11"}], "mark": {"type": "text", "align": "left"}, "encoding": {"x": {"datum": 0.624, "axis": null}, "y": {"field": "i", "type": "quantitative", "axis": null}, "text": {"field": "k"}}},
          {"data": {"name": "s"}, "transform": [{"filter": "datum.p == 11"}], "mark": {"type": "text", "align": "right"}, "encoding": {"x": {"datum": 0.969, "axis": null}, "y": {"field": "i", "type": "quantitative", "axis": null}, "text": {"field": "v"}}},
          {"mark": {"type": "rect", "color": "black"}, "encoding": {"x": {"datum": 0.0194, "axis": null}, "x2": {"datum": 0.339}, "y": {"datum": -0.151, "axis": null}, "y2": {"datum": 1.043}}},
          {"mark": {"type": "rect", "fill": "white", "stroke": "black", "strokeWidth": 1}, "encoding": {"x": {"datum": 0.013, "axis": null}, "x2": {"datum": 0.333}, "y": {"datum": -0.367, "axis": null}, "y2": {"datum": 0.827}}},
          {"data": {"name": "t"}, "transform": [{"filter": "datum.p == 11"}], "mark": {"type": "text", "align": "center", "fontSize": 6}, "encoding": {"x": {"datum": 0.173, "axis": null}, "y": {"datum": 0.23, "axis": null}, "text": {"field": "title"}}}
        ]}
      ]},
      {"width": 235, "height": 157, "resolve": {"scale": {"x": "independent", "y": "independent"}}, "layer": [
        {"resolve": {"axis": {"x": "independent", "y": "independent"}}, "layer": [
          {"data": {"values": [{}]}, "mark": {"type": "rect", "filled": false, "stroke": "black", "strokeWidth": 1}, "encoding": {"x": {"datum": 0, "type": "quantitative", "scale": {"domain": [-0.0642, 0.5642], "nice": false, "zero": false}, "axis": null}, "x2": {"datum": 0.5}, "y": {"datum": 0, "type": "quantitative", "scale": {"domain": [-0.6952, 8.4008], "nice": false, "zero": false}, "axis": null}, "y2": {"datum": 7.3}}},
          {"data": {"name": "h12"}, "mark": {"type": "line", "interpolate": "step-after", "color": "black", "strokeWidth": 1}, "encoding": {"x": {"field": "x", "type": "quantitative", "axis": {"orient": "bottom", "offset": -12, "values": [0,0.05,0.1,0.15,0.2,0.25,0.3,0.35,0.4,0.45,0.5], "format": ".2~f", "tickSize": -4, "labelPadding": 6, "title": null, "maxExtent": 12}}, "y": {"field": "y", "type": "quantitative", "axis": {"orient": "left", "offset": -24, "values": [0,1,2,3,4,5,6,7], "format": "d", "tickSize": -5, "labelPadding": 8, "title": null, "maxExtent": 22}}}},
          {"data": {"name": "f12"}, "mark": {"type": "line", "interpolate": "monotone", "color": "black", "strokeWidth": 3.8}, "encoding": {"x": {"field": "x", "type": "quantitative", "axis": {"orient": "bottom", "offset": -12, "tickCount": 60, "labels": false, "tickSize": -2, "title": null, "maxExtent": 12, "encode": {"ticks": {"update": {"opacity": {"signal": "datum.value > -0.0001 && datum.value < 0.5001 ? 1 : 0"}}}}}}, "y": {"field": "y", "type": "quantitative", "axis": {"orient": "left", "offset": -24, "tickCount": 45, "labels": false, "tickSize": -2.5, "title": null, "maxExtent": 22, "encode": {"ticks": {"update": {"opacity": {"signal": "datum.value > -0.00001 && datum.value < 7.3 ? 1 : 0"}}}}}}}}
        ]},
        {"data": {"values": [{}]}, "layer": [
          {"mark": {"type": "rect", "color": "black"}, "encoding": {"x": {"datum": 0.6235, "type": "quantitative", "scale": {"domain": [0, 1], "nice": false, "zero": false}, "axis": null}, "x2": {"datum": 0.9815}, "y": {"datum": -0.438, "type": "quantitative", "scale": {"domain": [-0.9424, 21.648], "nice": false, "zero": false, "reverse": true}, "axis": null}, "y2": {"datum": 11.79}}},
          {"mark": {"type": "rect", "fill": "white", "stroke": "black", "strokeWidth": 1}, "encoding": {"x": {"datum": 0.617, "axis": null}, "x2": {"datum": 0.975}, "y": {"datum": -0.654, "axis": null}, "y2": {"datum": 11.576}}},
          {"mark": {"type": "rule", "color": "black", "strokeWidth": 1}, "encoding": {"x": {"datum": 0.617, "axis": null}, "x2": {"datum": 0.975}, "y": {"datum": 0.57, "axis": null}}},
          {"data": {"name": "t"}, "transform": [{"filter": "datum.p == 12"}], "mark": {"type": "text", "align": "center"}, "encoding": {"x": {"datum": 0.796, "axis": null}, "y": {"datum": 0, "axis": null}, "text": {"field": "name"}}},
          {"data": {"name": "s"}, "transform": [{"filter": "datum.p == 12"}], "mark": {"type": "text", "align": "left"}, "encoding": {"x": {"datum": 0.624, "axis": null}, "y": {"field": "i", "type": "quantitative", "axis": null}, "text": {"field": "k"}}},
          {"data": {"name": "s"}, "transform": [{"filter": "datum.p == 12"}], "mark": {"type": "text", "align": "right"}, "encoding": {"x": {"datum": 0.969, "axis": null}, "y": {"field": "i", "type": "quantitative", "axis": null}, "text": {"field": "v"}}},
          {"mark": {"type": "rect", "color": "black"}, "encoding": {"x": {"datum": 0.0194, "axis": null}, "x2": {"datum": 0.339}, "y": {"datum": -0.151, "axis": null}, "y2": {"datum": 1.043}}},
          {"mark": {"type": "rect", "fill": "white", "stroke": "black", "strokeWidth": 1}, "encoding": {"x": {"datum": 0.013, "axis": null}, "x2": {"datum": 0.333}, "y": {"datum": -0.367, "axis": null}, "y2": {"datum": 0.827}}},
          {"data": {"name": "t"}, "transform": [{"filter": "datum.p == 12"}], "mark": {"type": "text", "align": "center", "fontSize": 6}, "encoding": {"x": {"datum": 0.173, "axis": null}, "y": {"datum": 0.23, "axis": null}, "text": {"field": "title"}}}
        ]}
      ]}
    ]},
    {"bounds": "flush", "spacing": 17, "hconcat": [
      {"width": 235, "height": 157, "resolve": {"scale": {"x": "independent", "y": "independent"}}, "layer": [
        {"resolve": {"axis": {"x": "independent", "y": "independent"}}, "layer": [
          {"data": {"values": [{}]}, "mark": {"type": "rect", "filled": false, "stroke": "black", "strokeWidth": 1}, "encoding": {"x": {"datum": 0, "type": "quantitative", "scale": {"domain": [-0.0642, 0.5642], "nice": false, "zero": false}, "axis": null}, "x2": {"datum": 0.5}, "y": {"datum": 0, "type": "quantitative", "scale": {"domain": [-1.181, 14.27], "nice": false, "zero": false}, "axis": null}, "y2": {"datum": 12.4}}},
          {"data": {"name": "h13"}, "mark": {"type": "line", "interpolate": "step-after", "color": "black", "strokeWidth": 1}, "encoding": {"x": {"field": "x", "type": "quantitative", "axis": {"orient": "bottom", "offset": -12, "values": [0,0.05,0.1,0.15,0.2,0.25,0.3,0.35,0.4,0.45,0.5], "format": ".2~f", "tickSize": -4, "labelPadding": 6, "title": null, "maxExtent": 12}}, "y": {"field": "y", "type": "quantitative", "axis": {"orient": "left", "offset": -24, "values": [0,2,4,6,8,10,12], "format": "d", "tickSize": -5, "labelPadding": 8, "title": null, "maxExtent": 22}}}},
          {"data": {"name": "f13"}, "mark": {"type": "line", "interpolate": "monotone", "color": "black", "strokeWidth": 3.8}, "encoding": {"x": {"field": "x", "type": "quantitative", "axis": {"orient": "bottom", "offset": -12, "tickCount": 60, "labels": false, "tickSize": -2, "title": null, "maxExtent": 12, "encode": {"ticks": {"update": {"opacity": {"signal": "datum.value > -0.0001 && datum.value < 0.5001 ? 1 : 0"}}}}}}, "y": {"field": "y", "type": "quantitative", "axis": {"orient": "left", "offset": -24, "tickCount": 31, "labels": false, "tickSize": -2.5, "title": null, "maxExtent": 22, "encode": {"ticks": {"update": {"opacity": {"signal": "datum.value > -0.00001 && datum.value < 12.4 ? 1 : 0"}}}}}}}}
        ]},
        {"data": {"values": [{}]}, "layer": [
          {"mark": {"type": "rect", "color": "black"}, "encoding": {"x": {"datum": 0.6235, "type": "quantitative", "scale": {"domain": [0, 1], "nice": false, "zero": false}, "axis": null}, "x2": {"datum": 0.9815}, "y": {"datum": -0.438, "type": "quantitative", "scale": {"domain": [-0.9424, 21.648], "nice": false, "zero": false, "reverse": true}, "axis": null}, "y2": {"datum": 11.79}}},
          {"mark": {"type": "rect", "fill": "white", "stroke": "black", "strokeWidth": 1}, "encoding": {"x": {"datum": 0.617, "axis": null}, "x2": {"datum": 0.975}, "y": {"datum": -0.654, "axis": null}, "y2": {"datum": 11.576}}},
          {"mark": {"type": "rule", "color": "black", "strokeWidth": 1}, "encoding": {"x": {"datum": 0.617, "axis": null}, "x2": {"datum": 0.975}, "y": {"datum": 0.57, "axis": null}}},
          {"data": {"name": "t"}, "transform": [{"filter": "datum.p == 13"}], "mark": {"type": "text", "align": "center"}, "encoding": {"x": {"datum": 0.796, "axis": null}, "y": {"datum": 0, "axis": null}, "text": {"field": "name"}}},
          {"data": {"name": "s"}, "transform": [{"filter": "datum.p == 13"}], "mark": {"type": "text", "align": "left"}, "encoding": {"x": {"datum": 0.624, "axis": null}, "y": {"field": "i", "type": "quantitative", "axis": null}, "text": {"field": "k"}}},
          {"data": {"name": "s"}, "transform": [{"filter": "datum.p == 13"}], "mark": {"type": "text", "align": "right"}, "encoding": {"x": {"datum": 0.969, "axis": null}, "y": {"field": "i", "type": "quantitative", "axis": null}, "text": {"field": "v"}}},
          {"mark": {"type": "rect", "color": "black"}, "encoding": {"x": {"datum": 0.0194, "axis": null}, "x2": {"datum": 0.339}, "y": {"datum": -0.151, "axis": null}, "y2": {"datum": 1.043}}},
          {"mark": {"type": "rect", "fill": "white", "stroke": "black", "strokeWidth": 1}, "encoding": {"x": {"datum": 0.013, "axis": null}, "x2": {"datum": 0.333}, "y": {"datum": -0.367, "axis": null}, "y2": {"datum": 0.827}}},
          {"data": {"name": "t"}, "transform": [{"filter": "datum.p == 13"}], "mark": {"type": "text", "align": "center", "fontSize": 6}, "encoding": {"x": {"datum": 0.173, "axis": null}, "y": {"datum": 0.23, "axis": null}, "text": {"field": "title"}}},
          {"data": {"name": "t"}, "transform": [{"filter": "datum.p == 13"}], "mark": {"type": "text", "align": "left", "baseline": "alphabetic", "font": "Liberation Serif", "fontWeight": "normal", "fontSize": 38}, "encoding": {"x": {"datum": 0.481, "axis": null}, "y": {"datum": 18.48, "axis": null}, "text": {"field": "lab"}}}
        ]}
      ]},
      {"width": 235, "height": 157, "resolve": {"scale": {"x": "independent", "y": "independent"}}, "layer": [
        {"resolve": {"axis": {"x": "independent", "y": "independent"}}, "layer": [
          {"data": {"values": [{}]}, "mark": {"type": "rect", "filled": false, "stroke": "black", "strokeWidth": 1}, "encoding": {"x": {"datum": 0, "type": "quantitative", "scale": {"domain": [-0.0642, 0.5642], "nice": false, "zero": false}, "axis": null}, "x2": {"datum": 0.5}, "y": {"datum": 0, "type": "quantitative", "scale": {"domain": [-0.5905, 7.1349], "nice": false, "zero": false}, "axis": null}, "y2": {"datum": 6.2}}},
          {"data": {"name": "h14"}, "mark": {"type": "line", "interpolate": "step-after", "color": "black", "strokeWidth": 1}, "encoding": {"x": {"field": "x", "type": "quantitative", "axis": {"orient": "bottom", "offset": -12, "values": [0,0.05,0.1,0.15,0.2,0.25,0.3,0.35,0.4,0.45,0.5], "format": ".2~f", "tickSize": -4, "labelPadding": 6, "title": null, "maxExtent": 12}}, "y": {"field": "y", "type": "quantitative", "axis": {"orient": "left", "offset": -24, "values": [0,1,2,3,4,5], "format": "d", "tickSize": -5, "labelPadding": 8, "title": null, "maxExtent": 22}}}},
          {"data": {"name": "f14"}, "mark": {"type": "line", "interpolate": "monotone", "color": "black", "strokeWidth": 3.8}, "encoding": {"x": {"field": "x", "type": "quantitative", "axis": {"orient": "bottom", "offset": -12, "tickCount": 60, "labels": false, "tickSize": -2, "title": null, "maxExtent": 12, "encode": {"ticks": {"update": {"opacity": {"signal": "datum.value > -0.0001 && datum.value < 0.5001 ? 1 : 0"}}}}}}, "y": {"field": "y", "type": "quantitative", "axis": {"orient": "left", "offset": -24, "tickCount": 39, "labels": false, "tickSize": -2.5, "title": null, "maxExtent": 22, "encode": {"ticks": {"update": {"opacity": {"signal": "datum.value > -0.00001 && datum.value < 6.2 ? 1 : 0"}}}}}}}}
        ]},
        {"data": {"values": [{}]}, "layer": [
          {"mark": {"type": "rect", "color": "black"}, "encoding": {"x": {"datum": 0.6235, "type": "quantitative", "scale": {"domain": [0, 1], "nice": false, "zero": false}, "axis": null}, "x2": {"datum": 0.9815}, "y": {"datum": -0.438, "type": "quantitative", "scale": {"domain": [-0.9424, 21.648], "nice": false, "zero": false, "reverse": true}, "axis": null}, "y2": {"datum": 11.79}}},
          {"mark": {"type": "rect", "fill": "white", "stroke": "black", "strokeWidth": 1}, "encoding": {"x": {"datum": 0.617, "axis": null}, "x2": {"datum": 0.975}, "y": {"datum": -0.654, "axis": null}, "y2": {"datum": 11.576}}},
          {"mark": {"type": "rule", "color": "black", "strokeWidth": 1}, "encoding": {"x": {"datum": 0.617, "axis": null}, "x2": {"datum": 0.975}, "y": {"datum": 0.57, "axis": null}}},
          {"data": {"name": "t"}, "transform": [{"filter": "datum.p == 14"}], "mark": {"type": "text", "align": "center"}, "encoding": {"x": {"datum": 0.796, "axis": null}, "y": {"datum": 0, "axis": null}, "text": {"field": "name"}}},
          {"data": {"name": "s"}, "transform": [{"filter": "datum.p == 14"}], "mark": {"type": "text", "align": "left"}, "encoding": {"x": {"datum": 0.624, "axis": null}, "y": {"field": "i", "type": "quantitative", "axis": null}, "text": {"field": "k"}}},
          {"data": {"name": "s"}, "transform": [{"filter": "datum.p == 14"}], "mark": {"type": "text", "align": "right"}, "encoding": {"x": {"datum": 0.969, "axis": null}, "y": {"field": "i", "type": "quantitative", "axis": null}, "text": {"field": "v"}}},
          {"mark": {"type": "rect", "color": "black"}, "encoding": {"x": {"datum": 0.0194, "axis": null}, "x2": {"datum": 0.551}, "y": {"datum": -0.438, "axis": null}, "y2": {"datum": 2.727}}},
          {"mark": {"type": "rect", "fill": "white", "stroke": "black", "strokeWidth": 1}, "encoding": {"x": {"datum": 0.013, "axis": null}, "x2": {"datum": 0.545}, "y": {"datum": -0.654, "axis": null}, "y2": {"datum": 2.511}}},
          {"data": {"name": "t"}, "transform": [{"filter": "datum.p == 14"}], "mark": {"type": "text", "align": "center", "fontSize": 12.5}, "encoding": {"x": {"datum": 0.279, "axis": null}, "y": {"datum": 0.93, "axis": null}, "text": {"field": "title"}}}
        ]}
      ]},
      {"width": 235, "height": 157, "resolve": {"scale": {"x": "independent", "y": "independent"}}, "layer": [
        {"resolve": {"axis": {"x": "independent", "y": "independent"}}, "layer": [
          {"data": {"values": [{}]}, "mark": {"type": "rect", "filled": false, "stroke": "black", "strokeWidth": 1}, "encoding": {"x": {"datum": 0, "type": "quantitative", "scale": {"domain": [-0.0642, 0.5642], "nice": false, "zero": false}, "axis": null}, "x2": {"datum": 0.5}, "y": {"datum": 0, "type": "quantitative", "scale": {"domain": [-0.17905, 2.16349], "nice": false, "zero": false}, "axis": null}, "y2": {"datum": 1.88}}},
          {"data": {"name": "h15"}, "mark": {"type": "line", "interpolate": "step-after", "color": "black", "strokeWidth": 1}, "encoding": {"x": {"field": "x", "type": "quantitative", "axis": {"orient": "bottom", "offset": -12, "values": [0,0.05,0.1,0.15,0.2,0.25,0.3,0.35,0.4,0.45,0.5], "format": ".2~f", "tickSize": -4, "labelPadding": 6, "title": null, "maxExtent": 12}}, "y": {"field": "y", "type": "quantitative", "axis": {"orient": "left", "offset": -24, "values": [0,0.2,0.4,0.6,0.8,1,1.2,1.4,1.6], "format": ".1~f", "tickSize": -5, "labelPadding": 8, "title": null, "maxExtent": 22}}}},
          {"data": {"name": "f15"}, "mark": {"type": "line", "interpolate": "monotone", "color": "black", "strokeWidth": 3.8}, "encoding": {"x": {"field": "x", "type": "quantitative", "axis": {"orient": "bottom", "offset": -12, "tickCount": 60, "labels": false, "tickSize": -2, "title": null, "maxExtent": 12, "encode": {"ticks": {"update": {"opacity": {"signal": "datum.value > -0.0001 && datum.value < 0.5001 ? 1 : 0"}}}}}}, "y": {"field": "y", "type": "quantitative", "axis": {"orient": "left", "offset": -24, "tickCount": 47, "labels": false, "tickSize": -2.5, "title": null, "maxExtent": 22, "encode": {"ticks": {"update": {"opacity": {"signal": "datum.value > -0.00001 && datum.value < 1.88 ? 1 : 0"}}}}}}}}
        ]},
        {"data": {"values": [{}]}, "layer": [
          {"mark": {"type": "rect", "color": "black"}, "encoding": {"x": {"datum": 0.6235, "type": "quantitative", "scale": {"domain": [0, 1], "nice": false, "zero": false}, "axis": null}, "x2": {"datum": 0.9815}, "y": {"datum": -0.438, "type": "quantitative", "scale": {"domain": [-0.9424, 21.648], "nice": false, "zero": false, "reverse": true}, "axis": null}, "y2": {"datum": 11.79}}},
          {"mark": {"type": "rect", "fill": "white", "stroke": "black", "strokeWidth": 1}, "encoding": {"x": {"datum": 0.617, "axis": null}, "x2": {"datum": 0.975}, "y": {"datum": -0.654, "axis": null}, "y2": {"datum": 11.576}}},
          {"mark": {"type": "rule", "color": "black", "strokeWidth": 1}, "encoding": {"x": {"datum": 0.617, "axis": null}, "x2": {"datum": 0.975}, "y": {"datum": 0.57, "axis": null}}},
          {"data": {"name": "t"}, "transform": [{"filter": "datum.p == 15"}], "mark": {"type": "text", "align": "center"}, "encoding": {"x": {"datum": 0.796, "axis": null}, "y": {"datum": 0, "axis": null}, "text": {"field": "name"}}},
          {"data": {"name": "s"}, "transform": [{"filter": "datum.p == 15"}], "mark": {"type": "text", "align": "left"}, "encoding": {"x": {"datum": 0.624, "axis": null}, "y": {"field": "i", "type": "quantitative", "axis": null}, "text": {"field": "k"}}},
          {"data": {"name": "s"}, "transform": [{"filter": "datum.p == 15"}], "mark": {"type": "text", "align": "right"}, "encoding": {"x": {"datum": 0.969, "axis": null}, "y": {"field": "i", "type": "quantitative", "axis": null}, "text": {"field": "v"}}},
          {"mark": {"type": "rect", "color": "black"}, "encoding": {"x": {"datum": 0.0194, "axis": null}, "x2": {"datum": 0.551}, "y": {"datum": -0.438, "axis": null}, "y2": {"datum": 2.727}}},
          {"mark": {"type": "rect", "fill": "white", "stroke": "black", "strokeWidth": 1}, "encoding": {"x": {"datum": 0.013, "axis": null}, "x2": {"datum": 0.545}, "y": {"datum": -0.654, "axis": null}, "y2": {"datum": 2.511}}},
          {"data": {"name": "t"}, "transform": [{"filter": "datum.p == 15"}], "mark": {"type": "text", "align": "center", "fontSize": 12.5}, "encoding": {"x": {"datum": 0.279, "axis": null}, "y": {"datum": 0.93, "axis": null}, "text": {"field": "title"}}}
        ]}
      ]},
      {"width": 235, "height": 157, "resolve": {"scale": {"x": "independent", "y": "independent"}}, "layer": [
        {"resolve": {"axis": {"x": "independent", "y": "independent"}}, "layer": [
          {"data": {"values": [{}]}, "mark": {"type": "rect", "filled": false, "stroke": "black", "strokeWidth": 1}, "encoding": {"x": {"datum": 0, "type": "quantitative", "scale": {"domain": [-0.0642, 0.5642], "nice": false, "zero": false}, "axis": null}, "x2": {"datum": 0.5}, "y": {"datum": 0, "type": "quantitative", "scale": {"domain": [-0.17905, 2.16349], "nice": false, "zero": false}, "axis": null}, "y2": {"datum": 1.88}}},
          {"data": {"name": "h16"}, "mark": {"type": "line", "interpolate": "step-after", "color": "black", "strokeWidth": 1}, "encoding": {"x": {"field": "x", "type": "quantitative", "axis": {"orient": "bottom", "offset": -12, "values": [0,0.05,0.1,0.15,0.2,0.25,0.3,0.35,0.4,0.45,0.5], "format": ".2~f", "tickSize": -4, "labelPadding": 6, "title": null, "maxExtent": 12}}, "y": {"field": "y", "type": "quantitative", "axis": {"orient": "left", "offset": -24, "values": [0,0.2,0.4,0.6,0.8,1,1.2,1.4,1.6], "format": ".1~f", "tickSize": -5, "labelPadding": 8, "title": null, "maxExtent": 22}}}},
          {"data": {"name": "f16"}, "mark": {"type": "line", "interpolate": "monotone", "color": "black", "strokeWidth": 3.8}, "encoding": {"x": {"field": "x", "type": "quantitative", "axis": {"orient": "bottom", "offset": -12, "tickCount": 60, "labels": false, "tickSize": -2, "title": null, "maxExtent": 12, "encode": {"ticks": {"update": {"opacity": {"signal": "datum.value > -0.0001 && datum.value < 0.5001 ? 1 : 0"}}}}}}, "y": {"field": "y", "type": "quantitative", "axis": {"orient": "left", "offset": -24, "tickCount": 47, "labels": false, "tickSize": -2.5, "title": null, "maxExtent": 22, "encode": {"ticks": {"update": {"opacity": {"signal": "datum.value > -0.00001 && datum.value < 1.88 ? 1 : 0"}}}}}}}}
        ]},
        {"data": {"values": [{}]}, "layer": [
          {"mark": {"type": "rect", "color": "black"}, "encoding": {"x": {"datum": 0.6235, "type": "quantitative", "scale": {"domain": [0, 1], "nice": false, "zero": false}, "axis": null}, "x2": {"datum": 0.9815}, "y": {"datum": -0.438, "type": "quantitative", "scale": {"domain": [-0.9424, 21.648], "nice": false, "zero": false, "reverse": true}, "axis": null}, "y2": {"datum": 11.79}}},
          {"mark": {"type": "rect", "fill": "white", "stroke": "black", "strokeWidth": 1}, "encoding": {"x": {"datum": 0.617, "axis": null}, "x2": {"datum": 0.975}, "y": {"datum": -0.654, "axis": null}, "y2": {"datum": 11.576}}},
          {"mark": {"type": "rule", "color": "black", "strokeWidth": 1}, "encoding": {"x": {"datum": 0.617, "axis": null}, "x2": {"datum": 0.975}, "y": {"datum": 0.57, "axis": null}}},
          {"data": {"name": "t"}, "transform": [{"filter": "datum.p == 16"}], "mark": {"type": "text", "align": "center"}, "encoding": {"x": {"datum": 0.796, "axis": null}, "y": {"datum": 0, "axis": null}, "text": {"field": "name"}}},
          {"data": {"name": "s"}, "transform": [{"filter": "datum.p == 16"}], "mark": {"type": "text", "align": "left"}, "encoding": {"x": {"datum": 0.624, "axis": null}, "y": {"field": "i", "type": "quantitative", "axis": null}, "text": {"field": "k"}}},
          {"data": {"name": "s"}, "transform": [{"filter": "datum.p == 16"}], "mark": {"type": "text", "align": "right"}, "encoding": {"x": {"datum": 0.969, "axis": null}, "y": {"field": "i", "type": "quantitative", "axis": null}, "text": {"field": "v"}}},
          {"mark": {"type": "rect", "color": "black"}, "encoding": {"x": {"datum": 0.0194, "axis": null}, "x2": {"datum": 0.551}, "y": {"datum": -0.438, "axis": null}, "y2": {"datum": 2.727}}},
          {"mark": {"type": "rect", "fill": "white", "stroke": "black", "strokeWidth": 1}, "encoding": {"x": {"datum": 0.013, "axis": null}, "x2": {"datum": 0.545}, "y": {"datum": -0.654, "axis": null}, "y2": {"datum": 2.511}}},
          {"data": {"name": "t"}, "transform": [{"filter": "datum.p == 16"}], "mark": {"type": "text", "align": "center", "fontSize": 12.5}, "encoding": {"x": {"datum": 0.279, "axis": null}, "y": {"datum": 0.93, "axis": null}, "text": {"field": "title"}}}
        ]}
      ]}
    ]}
  ]
}
